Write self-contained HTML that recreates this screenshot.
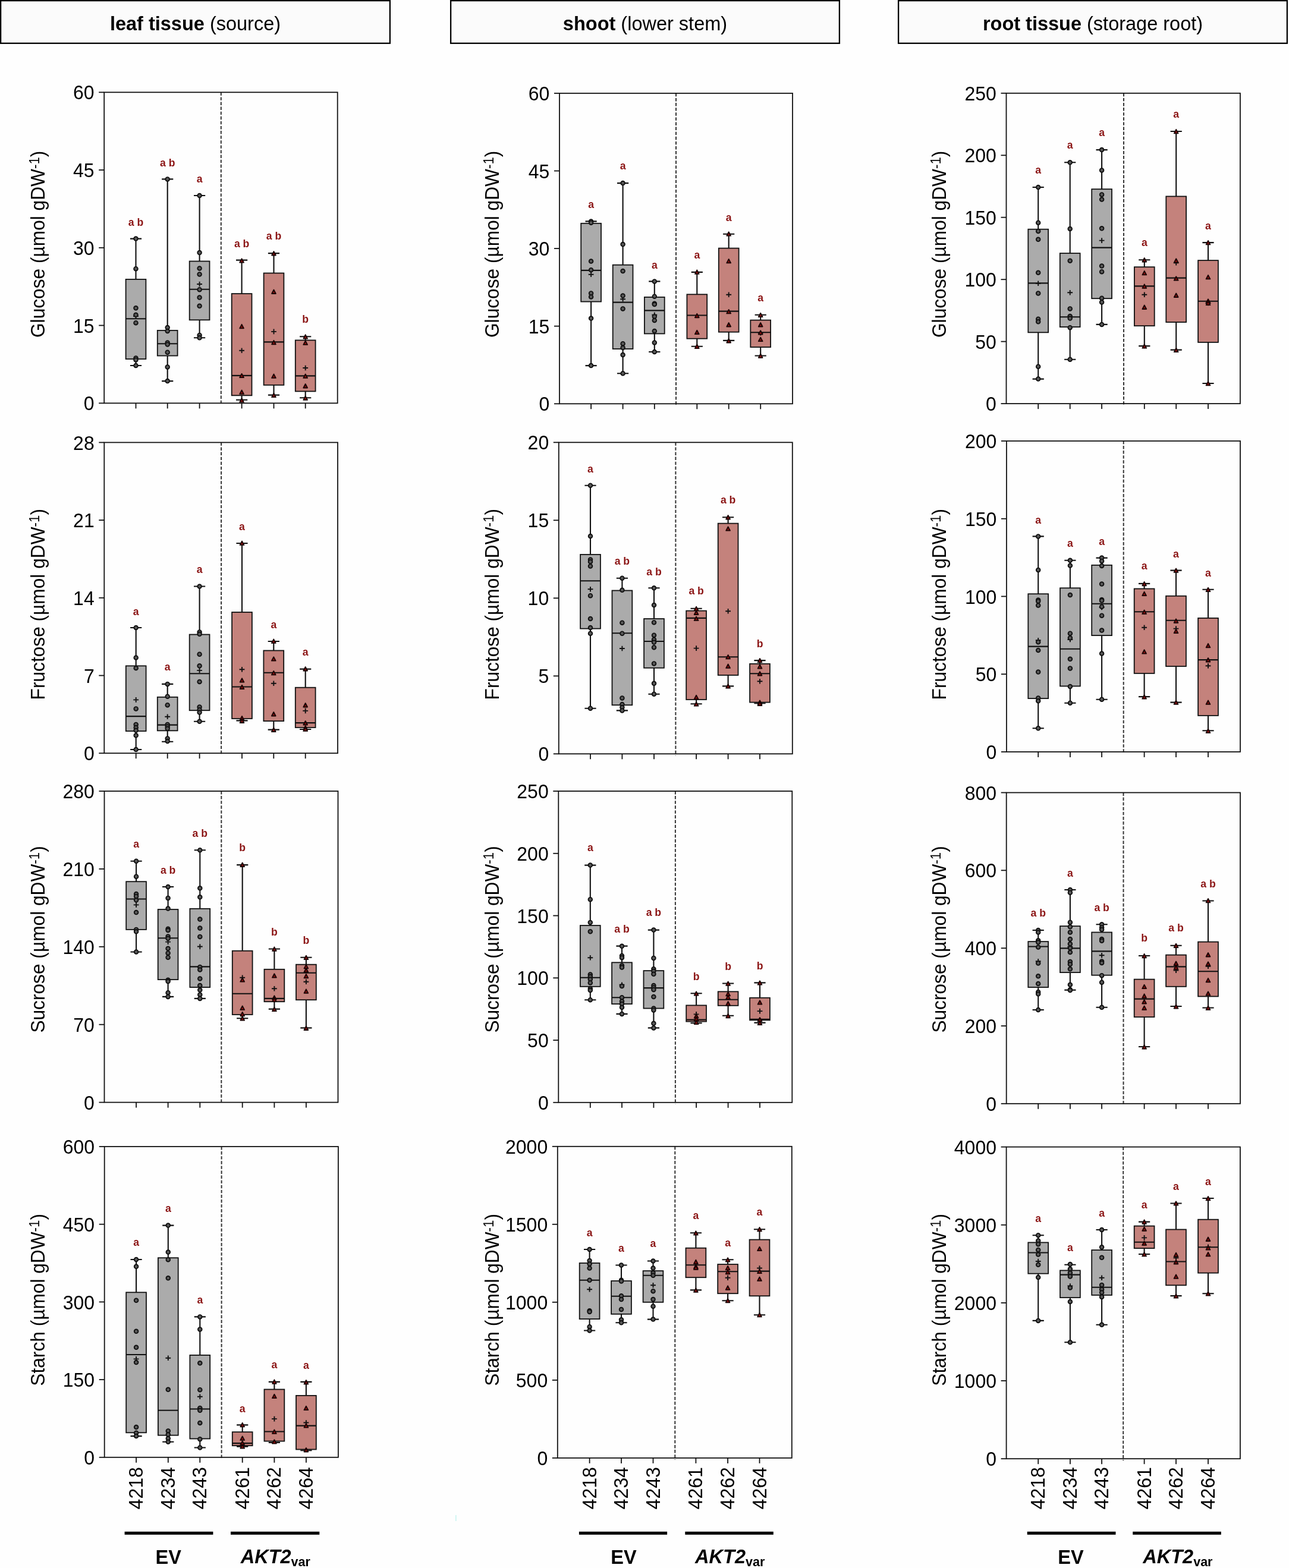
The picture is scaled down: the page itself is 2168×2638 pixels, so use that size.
<!DOCTYPE html>
<html><head><meta charset="utf-8"><title>figure</title>
<style>html,body{margin:0;padding:0;background:#fff;} svg{display:block;}</style>
</head><body>
<svg width="2168" height="2638" viewBox="0 0 2168 2638" font-family="'Liberation Sans', Arial, Helvetica, sans-serif"><rect x="0" y="0" width="2168" height="2638" fill="#fefefe"/><rect x="1.1" y="1.1" width="654.8" height="71.7" fill="#fbfbfb" stroke="#000" stroke-width="2.3"/><text x="328.5" y="50.8" font-size="32.5" text-anchor="middle"><tspan font-weight="bold">leaf tissue</tspan> (source)</text><rect x="758.1" y="1.1" width="653.8" height="71.7" fill="#fbfbfb" stroke="#000" stroke-width="2.3"/><text x="1085.0" y="50.8" font-size="32.5" text-anchor="middle"><tspan font-weight="bold">shoot</tspan> (lower stem)</text><rect x="1511.1" y="1.1" width="653.8" height="71.7" fill="#fbfbfb" stroke="#000" stroke-width="2.3"/><text x="1838.0" y="50.8" font-size="32.5" text-anchor="middle"><tspan font-weight="bold">root tissue</tspan> (storage root)</text><line x1="371.8" y1="155.3" x2="371.8" y2="681.3" stroke="#333" stroke-width="2" stroke-dasharray="5.4,2.7"/><rect x="175.2" y="155.3" width="392.5" height="523.0" fill="none" stroke="#111" stroke-width="1.8"/><path d="M166.2 678.3H175.2" stroke="#111" stroke-width="1.8"/><text transform="translate(158.6,690.4) scale(0.97,1)" font-size="33" text-anchor="end">0</text><path d="M166.2 547.5H175.2" stroke="#111" stroke-width="1.8"/><text transform="translate(158.6,559.6) scale(0.97,1)" font-size="33" text-anchor="end">15</text><path d="M166.2 416.8H175.2" stroke="#111" stroke-width="1.8"/><text transform="translate(158.6,428.9) scale(0.97,1)" font-size="33" text-anchor="end">30</text><path d="M166.2 286.0H175.2" stroke="#111" stroke-width="1.8"/><text transform="translate(158.6,298.1) scale(0.97,1)" font-size="33" text-anchor="end">45</text><path d="M166.2 155.3H175.2" stroke="#111" stroke-width="1.8"/><text transform="translate(158.6,167.4) scale(0.97,1)" font-size="33" text-anchor="end">60</text><path d="M228.5 678.3V687.3" stroke="#111" stroke-width="1.8"/><path d="M281.7 678.3V687.3" stroke="#111" stroke-width="1.8"/><path d="M335.6 678.3V687.3" stroke="#111" stroke-width="1.8"/><path d="M406.6 678.3V687.3" stroke="#111" stroke-width="1.8"/><path d="M460.5 678.3V687.3" stroke="#111" stroke-width="1.8"/><path d="M513.7 678.3V687.3" stroke="#111" stroke-width="1.8"/><text transform="translate(75.2,410.8) rotate(-90) scale(0.975,1)" font-size="32.5" text-anchor="middle">Glucose (µmol gDW<tspan font-size="23" dy="-9.5">-1</tspan><tspan dy="9.5">)</tspan></text><path d="M228.5 401.6V469.9M228.5 604.0V615.0M218.9 401.6H238.1M218.9 615.0H238.1" stroke="#111" stroke-width="2.1" fill="none"/><rect x="211.6" y="469.9" width="33.8" height="134.1" fill="#ababab" stroke="#111" stroke-width="1.8"/><path d="M211.6 536.3H245.4" stroke="#111" stroke-width="2.1"/><path d="M224.1 532H232.9M228.5 527.7V536.3" stroke="#111" stroke-width="1.9" fill="none"/><circle cx="228.5" cy="401.6" r="3.3" fill="#5a5a5a" stroke="#111" stroke-width="1.9"/><circle cx="228.5" cy="452.2" r="3.3" fill="#5a5a5a" stroke="#111" stroke-width="1.9"/><circle cx="228.5" cy="518.3" r="3.3" fill="#5a5a5a" stroke="#111" stroke-width="1.9"/><circle cx="228.5" cy="529.8" r="3.3" fill="#5a5a5a" stroke="#111" stroke-width="1.9"/><circle cx="228.5" cy="543.2" r="3.3" fill="#5a5a5a" stroke="#111" stroke-width="1.9"/><circle cx="228.5" cy="602.4" r="3.3" fill="#5a5a5a" stroke="#111" stroke-width="1.9"/><circle cx="228.5" cy="605.4" r="3.3" fill="#5a5a5a" stroke="#111" stroke-width="1.9"/><circle cx="228.5" cy="615" r="3.3" fill="#5a5a5a" stroke="#111" stroke-width="1.9"/><text x="228.5" y="379.8" font-size="17.6" font-weight="bold" fill="#8b1414" text-anchor="middle">a b</text><path d="M281.7 301.4V555.9M281.7 598.5V641.1M272.1 301.4H291.3M272.1 641.1H291.3" stroke="#111" stroke-width="2.1" fill="none"/><rect x="264.8" y="555.9" width="33.8" height="42.6" fill="#ababab" stroke="#111" stroke-width="1.8"/><path d="M264.8 578.2H298.6" stroke="#111" stroke-width="2.1"/><circle cx="281.7" cy="301.4" r="3.3" fill="#5a5a5a" stroke="#111" stroke-width="1.9"/><circle cx="281.7" cy="551" r="3.3" fill="#5a5a5a" stroke="#111" stroke-width="1.9"/><circle cx="281.7" cy="557" r="3.3" fill="#5a5a5a" stroke="#111" stroke-width="1.9"/><circle cx="281.7" cy="576.4" r="3.3" fill="#5a5a5a" stroke="#111" stroke-width="1.9"/><circle cx="281.7" cy="579.4" r="3.3" fill="#5a5a5a" stroke="#111" stroke-width="1.9"/><circle cx="281.7" cy="592.7" r="3.3" fill="#5a5a5a" stroke="#111" stroke-width="1.9"/><circle cx="281.7" cy="617.4" r="3.3" fill="#5a5a5a" stroke="#111" stroke-width="1.9"/><circle cx="281.7" cy="641.1" r="3.3" fill="#5a5a5a" stroke="#111" stroke-width="1.9"/><text x="281.7" y="279.5" font-size="17.6" font-weight="bold" fill="#8b1414" text-anchor="middle">a b</text><path d="M335.6 329.0V439.5M335.6 538.3V568.3M326.0 329.0H345.2M326.0 568.3H345.2" stroke="#111" stroke-width="2.1" fill="none"/><rect x="318.7" y="439.5" width="33.8" height="98.8" fill="#ababab" stroke="#111" stroke-width="1.8"/><path d="M318.7 486.7H352.5" stroke="#111" stroke-width="2.1"/><path d="M331.2 478H340.0M335.6 473.7V482.3" stroke="#111" stroke-width="1.9" fill="none"/><circle cx="335.6" cy="329" r="3.3" fill="#5a5a5a" stroke="#111" stroke-width="1.9"/><circle cx="335.6" cy="425.1" r="3.3" fill="#5a5a5a" stroke="#111" stroke-width="1.9"/><circle cx="335.6" cy="451.5" r="3.3" fill="#5a5a5a" stroke="#111" stroke-width="1.9"/><circle cx="335.6" cy="461.4" r="3.3" fill="#5a5a5a" stroke="#111" stroke-width="1.9"/><circle cx="335.6" cy="487.2" r="3.3" fill="#5a5a5a" stroke="#111" stroke-width="1.9"/><circle cx="335.6" cy="500.6" r="3.3" fill="#5a5a5a" stroke="#111" stroke-width="1.9"/><circle cx="335.6" cy="514.8" r="3.3" fill="#5a5a5a" stroke="#111" stroke-width="1.9"/><circle cx="335.6" cy="563.9" r="3.3" fill="#5a5a5a" stroke="#111" stroke-width="1.9"/><circle cx="335.6" cy="568.3" r="3.3" fill="#5a5a5a" stroke="#111" stroke-width="1.9"/><text x="335.6" y="307.2" font-size="17.6" font-weight="bold" fill="#8b1414" text-anchor="middle">a</text><path d="M406.6 437.6V494.1M406.6 665.3V672.7M397.0 437.6H416.2M397.0 672.7H416.2" stroke="#111" stroke-width="2.1" fill="none"/><rect x="389.7" y="494.1" width="33.8" height="171.2" fill="#c4827c" stroke="#111" stroke-width="1.8"/><path d="M389.7 631.9H423.5" stroke="#111" stroke-width="2.1"/><path d="M402.2 589.7H411.0M406.6 585.4V594.0" stroke="#111" stroke-width="1.9" fill="none"/><path d="M406.6 435.2L410.0 441.7L403.2 441.7Z" fill="#8a1010" stroke="#1a0303" stroke-width="1.8" stroke-linejoin="round"/><path d="M406.6 545.8L410.0 552.3L403.2 552.3Z" fill="#8a1010" stroke="#1a0303" stroke-width="1.8" stroke-linejoin="round"/><path d="M406.6 628.7L410.0 635.2L403.2 635.2Z" fill="#8a1010" stroke="#1a0303" stroke-width="1.8" stroke-linejoin="round"/><path d="M406.6 656.4L410.0 662.9L403.2 662.9Z" fill="#8a1010" stroke="#1a0303" stroke-width="1.8" stroke-linejoin="round"/><path d="M406.6 670.2L410.0 676.7L403.2 676.7Z" fill="#8a1010" stroke="#1a0303" stroke-width="1.8" stroke-linejoin="round"/><text x="406.6" y="415.5" font-size="17.6" font-weight="bold" fill="#8b1414" text-anchor="middle">a b</text><path d="M460.5 426.1V459.5M460.5 647.8V664.6M450.9 426.1H470.1M450.9 664.6H470.1" stroke="#111" stroke-width="2.1" fill="none"/><rect x="443.6" y="459.5" width="33.8" height="188.3" fill="#c4827c" stroke="#111" stroke-width="1.8"/><path d="M443.6 575.4H477.4" stroke="#111" stroke-width="2.1"/><path d="M456.1 557.9H464.9M460.5 553.6V562.2" stroke="#111" stroke-width="1.9" fill="none"/><path d="M460.5 423.0L463.9 429.5L457.1 429.5Z" fill="#8a1010" stroke="#1a0303" stroke-width="1.8" stroke-linejoin="round"/><path d="M460.5 487.5L463.9 494.0L457.1 494.0Z" fill="#8a1010" stroke="#1a0303" stroke-width="1.8" stroke-linejoin="round"/><path d="M460.5 572.8L463.9 579.3L457.1 579.3Z" fill="#8a1010" stroke="#1a0303" stroke-width="1.8" stroke-linejoin="round"/><path d="M460.5 629.4L463.9 635.9L457.1 635.9Z" fill="#8a1010" stroke="#1a0303" stroke-width="1.8" stroke-linejoin="round"/><path d="M460.5 661.7L463.9 668.2L457.1 668.2Z" fill="#8a1010" stroke="#1a0303" stroke-width="1.8" stroke-linejoin="round"/><text x="460.5" y="403.3" font-size="17.6" font-weight="bold" fill="#8b1414" text-anchor="middle">a b</text><path d="M513.7 566.2V572.4M513.7 658.4V669.2M504.1 566.2H523.3M504.1 669.2H523.3" stroke="#111" stroke-width="2.1" fill="none"/><rect x="496.8" y="572.4" width="33.8" height="86.0" fill="#c4827c" stroke="#111" stroke-width="1.8"/><path d="M496.8 632.4H530.6" stroke="#111" stroke-width="2.1"/><path d="M509.3 619H518.1M513.7 614.7V623.3" stroke="#111" stroke-width="1.9" fill="none"/><path d="M513.7 563.1L517.1 569.6L510.3 569.6Z" fill="#8a1010" stroke="#1a0303" stroke-width="1.8" stroke-linejoin="round"/><path d="M513.7 573.4L517.1 579.9L510.3 579.9Z" fill="#8a1010" stroke="#1a0303" stroke-width="1.8" stroke-linejoin="round"/><path d="M513.7 629.4L517.1 635.9L510.3 635.9Z" fill="#8a1010" stroke="#1a0303" stroke-width="1.8" stroke-linejoin="round"/><path d="M513.7 646.0L517.1 652.5L510.3 652.5Z" fill="#8a1010" stroke="#1a0303" stroke-width="1.8" stroke-linejoin="round"/><path d="M513.7 666.3L517.1 672.8L510.3 672.8Z" fill="#8a1010" stroke="#1a0303" stroke-width="1.8" stroke-linejoin="round"/><text x="513.7" y="543.0" font-size="17.6" font-weight="bold" fill="#8b1414" text-anchor="middle">b</text><line x1="1137.0" y1="156.9" x2="1137.0" y2="682.3" stroke="#333" stroke-width="2" stroke-dasharray="5.4,2.7"/><rect x="941.0" y="156.9" width="392.0" height="522.4" fill="none" stroke="#111" stroke-width="1.8"/><path d="M932.0 679.3H941.0" stroke="#111" stroke-width="1.8"/><text transform="translate(924.4,691.4) scale(0.97,1)" font-size="33" text-anchor="end">0</text><path d="M932.0 548.7H941.0" stroke="#111" stroke-width="1.8"/><text transform="translate(924.4,560.8) scale(0.97,1)" font-size="33" text-anchor="end">15</text><path d="M932.0 418.1H941.0" stroke="#111" stroke-width="1.8"/><text transform="translate(924.4,430.2) scale(0.97,1)" font-size="33" text-anchor="end">30</text><path d="M932.0 287.5H941.0" stroke="#111" stroke-width="1.8"/><text transform="translate(924.4,299.6) scale(0.97,1)" font-size="33" text-anchor="end">45</text><path d="M932.0 156.9H941.0" stroke="#111" stroke-width="1.8"/><text transform="translate(924.4,169.0) scale(0.97,1)" font-size="33" text-anchor="end">60</text><path d="M994.1 679.3V688.3" stroke="#111" stroke-width="1.8"/><path d="M1047.6 679.3V688.3" stroke="#111" stroke-width="1.8"/><path d="M1100.8 679.3V688.3" stroke="#111" stroke-width="1.8"/><path d="M1172.3 679.3V688.3" stroke="#111" stroke-width="1.8"/><path d="M1225.7 679.3V688.3" stroke="#111" stroke-width="1.8"/><path d="M1279.2 679.3V688.3" stroke="#111" stroke-width="1.8"/><text transform="translate(839.3,410.8) rotate(-90) scale(0.975,1)" font-size="32.5" text-anchor="middle">Glucose (µmol gDW<tspan font-size="23" dy="-9.5">-1</tspan><tspan dy="9.5">)</tspan></text><path d="M994.1 372.4V375.8M994.1 507.5V615.1M984.5 372.4H1003.7M984.5 615.1H1003.7" stroke="#111" stroke-width="2.1" fill="none"/><rect x="977.2" y="375.8" width="33.8" height="131.7" fill="#ababab" stroke="#111" stroke-width="1.8"/><path d="M977.2 454.9H1011.0" stroke="#111" stroke-width="2.1"/><path d="M989.7 461.8H998.5M994.1 457.5V466.1" stroke="#111" stroke-width="1.9" fill="none"/><circle cx="994.1" cy="372.4" r="3.3" fill="#5a5a5a" stroke="#111" stroke-width="1.9"/><circle cx="994.1" cy="374.7" r="3.3" fill="#5a5a5a" stroke="#111" stroke-width="1.9"/><circle cx="994.1" cy="439.5" r="3.3" fill="#5a5a5a" stroke="#111" stroke-width="1.9"/><circle cx="994.1" cy="454.2" r="3.3" fill="#5a5a5a" stroke="#111" stroke-width="1.9"/><circle cx="994.1" cy="493.4" r="3.3" fill="#5a5a5a" stroke="#111" stroke-width="1.9"/><circle cx="994.1" cy="499.4" r="3.3" fill="#5a5a5a" stroke="#111" stroke-width="1.9"/><circle cx="994.1" cy="535.6" r="3.3" fill="#5a5a5a" stroke="#111" stroke-width="1.9"/><circle cx="994.1" cy="615.1" r="3.3" fill="#5a5a5a" stroke="#111" stroke-width="1.9"/><text x="994.1" y="349.8" font-size="17.6" font-weight="bold" fill="#8b1414" text-anchor="middle">a</text><path d="M1047.6 308.1V445.7M1047.6 587.0V628.2M1038.0 308.1H1057.2M1038.0 628.2H1057.2" stroke="#111" stroke-width="2.1" fill="none"/><rect x="1030.7" y="445.7" width="33.8" height="141.3" fill="#ababab" stroke="#111" stroke-width="1.8"/><path d="M1030.7 508.6H1064.5" stroke="#111" stroke-width="2.1"/><path d="M1043.2 503.3H1052.0M1047.6 499.0V507.6" stroke="#111" stroke-width="1.9" fill="none"/><circle cx="1047.6" cy="308.1" r="3.3" fill="#5a5a5a" stroke="#111" stroke-width="1.9"/><circle cx="1047.6" cy="411.1" r="3.3" fill="#5a5a5a" stroke="#111" stroke-width="1.9"/><circle cx="1047.6" cy="456.1" r="3.3" fill="#5a5a5a" stroke="#111" stroke-width="1.9"/><circle cx="1047.6" cy="497.6" r="3.3" fill="#5a5a5a" stroke="#111" stroke-width="1.9"/><circle cx="1047.6" cy="519.4" r="3.3" fill="#5a5a5a" stroke="#111" stroke-width="1.9"/><circle cx="1047.6" cy="578.2" r="3.3" fill="#5a5a5a" stroke="#111" stroke-width="1.9"/><circle cx="1047.6" cy="585.1" r="3.3" fill="#5a5a5a" stroke="#111" stroke-width="1.9"/><circle cx="1047.6" cy="597.1" r="3.3" fill="#5a5a5a" stroke="#111" stroke-width="1.9"/><circle cx="1047.6" cy="628.2" r="3.3" fill="#5a5a5a" stroke="#111" stroke-width="1.9"/><text x="1047.6" y="285.3" font-size="17.6" font-weight="bold" fill="#8b1414" text-anchor="middle">a</text><path d="M1100.8 473.4V499.9M1100.8 561.4V592.0M1091.2 473.4H1110.4M1091.2 592.0H1110.4" stroke="#111" stroke-width="2.1" fill="none"/><rect x="1083.9" y="499.9" width="33.8" height="61.5" fill="#ababab" stroke="#111" stroke-width="1.8"/><path d="M1083.9 522.4H1117.7" stroke="#111" stroke-width="2.1"/><path d="M1096.4 529.8H1105.2M1100.8 525.5V534.1" stroke="#111" stroke-width="1.9" fill="none"/><circle cx="1100.8" cy="473.4" r="3.3" fill="#5a5a5a" stroke="#111" stroke-width="1.9"/><circle cx="1100.8" cy="498.7" r="3.3" fill="#5a5a5a" stroke="#111" stroke-width="1.9"/><circle cx="1100.8" cy="510.7" r="3.3" fill="#5a5a5a" stroke="#111" stroke-width="1.9"/><circle cx="1100.8" cy="512" r="3.3" fill="#5a5a5a" stroke="#111" stroke-width="1.9"/><circle cx="1100.8" cy="532.6" r="3.3" fill="#5a5a5a" stroke="#111" stroke-width="1.9"/><circle cx="1100.8" cy="539" r="3.3" fill="#5a5a5a" stroke="#111" stroke-width="1.9"/><circle cx="1100.8" cy="557" r="3.3" fill="#5a5a5a" stroke="#111" stroke-width="1.9"/><circle cx="1100.8" cy="576.4" r="3.3" fill="#5a5a5a" stroke="#111" stroke-width="1.9"/><circle cx="1100.8" cy="592" r="3.3" fill="#5a5a5a" stroke="#111" stroke-width="1.9"/><text x="1100.8" y="451.5" font-size="17.6" font-weight="bold" fill="#8b1414" text-anchor="middle">a</text><path d="M1172.3 457.9V495.3M1172.3 569.7V582.8M1162.7 457.9H1181.9M1162.7 582.8H1181.9" stroke="#111" stroke-width="2.1" fill="none"/><rect x="1155.4" y="495.3" width="33.8" height="74.4" fill="#c4827c" stroke="#111" stroke-width="1.8"/><path d="M1155.4 530.5H1189.2" stroke="#111" stroke-width="2.1"/><path d="M1172.3 454.3L1175.7 460.8L1168.9 460.8Z" fill="#8a1010" stroke="#1a0303" stroke-width="1.8" stroke-linejoin="round"/><path d="M1172.3 527.8L1175.7 534.3L1168.9 534.3Z" fill="#8a1010" stroke="#1a0303" stroke-width="1.8" stroke-linejoin="round"/><path d="M1172.3 555.7L1175.7 562.2L1168.9 562.2Z" fill="#8a1010" stroke="#1a0303" stroke-width="1.8" stroke-linejoin="round"/><path d="M1172.3 579.7L1175.7 586.2L1168.9 586.2Z" fill="#8a1010" stroke="#1a0303" stroke-width="1.8" stroke-linejoin="round"/><text x="1172.3" y="435.4" font-size="17.6" font-weight="bold" fill="#8b1414" text-anchor="middle">a</text><path d="M1225.7 393.8V417.6M1225.7 558.6V572.9M1216.1 393.8H1235.3M1216.1 572.9H1235.3" stroke="#111" stroke-width="2.1" fill="none"/><rect x="1208.8" y="417.6" width="33.8" height="141.0" fill="#c4827c" stroke="#111" stroke-width="1.8"/><path d="M1208.8 523.6H1242.6" stroke="#111" stroke-width="2.1"/><path d="M1221.3 495.7H1230.1M1225.7 491.4V500.0" stroke="#111" stroke-width="1.9" fill="none"/><path d="M1225.7 390.2L1229.1 396.7L1222.3 396.7Z" fill="#8a1010" stroke="#1a0303" stroke-width="1.8" stroke-linejoin="round"/><path d="M1225.7 435.9L1229.1 442.4L1222.3 442.4Z" fill="#8a1010" stroke="#1a0303" stroke-width="1.8" stroke-linejoin="round"/><path d="M1225.7 520.9L1229.1 527.4L1222.3 527.4Z" fill="#8a1010" stroke="#1a0303" stroke-width="1.8" stroke-linejoin="round"/><path d="M1225.7 543.0L1229.1 549.5L1222.3 549.5Z" fill="#8a1010" stroke="#1a0303" stroke-width="1.8" stroke-linejoin="round"/><path d="M1225.7 570.0L1229.1 576.5L1222.3 576.5Z" fill="#8a1010" stroke="#1a0303" stroke-width="1.8" stroke-linejoin="round"/><text x="1225.7" y="372.2" font-size="17.6" font-weight="bold" fill="#8b1414" text-anchor="middle">a</text><path d="M1279.2 529.8V538.6M1279.2 584.0V598.5M1269.6 529.8H1288.8M1269.6 598.5H1288.8" stroke="#111" stroke-width="2.1" fill="none"/><rect x="1262.3" y="538.6" width="33.8" height="45.4" fill="#c4827c" stroke="#111" stroke-width="1.8"/><path d="M1262.3 559.3H1296.1" stroke="#111" stroke-width="2.1"/><path d="M1274.8 560.2H1283.6M1279.2 555.9V564.5" stroke="#111" stroke-width="1.9" fill="none"/><path d="M1279.2 526.7L1282.6 533.2L1275.8 533.2Z" fill="#8a1010" stroke="#1a0303" stroke-width="1.8" stroke-linejoin="round"/><path d="M1279.2 543.0L1282.6 549.5L1275.8 549.5Z" fill="#8a1010" stroke="#1a0303" stroke-width="1.8" stroke-linejoin="round"/><path d="M1279.2 556.2L1282.6 562.7L1275.8 562.7Z" fill="#8a1010" stroke="#1a0303" stroke-width="1.8" stroke-linejoin="round"/><path d="M1279.2 567.7L1282.6 574.2L1275.8 574.2Z" fill="#8a1010" stroke="#1a0303" stroke-width="1.8" stroke-linejoin="round"/><path d="M1279.2 595.3L1282.6 601.8L1275.8 601.8Z" fill="#8a1010" stroke="#1a0303" stroke-width="1.8" stroke-linejoin="round"/><text x="1279.2" y="506.8" font-size="17.6" font-weight="bold" fill="#8b1414" text-anchor="middle">a</text><line x1="1890.0" y1="156.8" x2="1890.0" y2="682.1" stroke="#333" stroke-width="2" stroke-dasharray="5.4,2.7"/><rect x="1692.5" y="156.8" width="393.4" height="522.3" fill="none" stroke="#111" stroke-width="1.8"/><path d="M1683.5 679.1H1692.5" stroke="#111" stroke-width="1.8"/><text transform="translate(1675.9,691.2) scale(0.97,1)" font-size="33" text-anchor="end">0</text><path d="M1683.5 574.6H1692.5" stroke="#111" stroke-width="1.8"/><text transform="translate(1675.9,586.7) scale(0.97,1)" font-size="33" text-anchor="end">50</text><path d="M1683.5 470.2H1692.5" stroke="#111" stroke-width="1.8"/><text transform="translate(1675.9,482.3) scale(0.97,1)" font-size="33" text-anchor="end">100</text><path d="M1683.5 365.7H1692.5" stroke="#111" stroke-width="1.8"/><text transform="translate(1675.9,377.8) scale(0.97,1)" font-size="33" text-anchor="end">150</text><path d="M1683.5 261.3H1692.5" stroke="#111" stroke-width="1.8"/><text transform="translate(1675.9,273.4) scale(0.97,1)" font-size="33" text-anchor="end">200</text><path d="M1683.5 156.8H1692.5" stroke="#111" stroke-width="1.8"/><text transform="translate(1675.9,168.9) scale(0.97,1)" font-size="33" text-anchor="end">250</text><path d="M1746.2 679.1V688.1" stroke="#111" stroke-width="1.8"/><path d="M1799.7 679.1V688.1" stroke="#111" stroke-width="1.8"/><path d="M1853.1 679.1V688.1" stroke="#111" stroke-width="1.8"/><path d="M1924.8 679.1V688.1" stroke="#111" stroke-width="1.8"/><path d="M1978.2 679.1V688.1" stroke="#111" stroke-width="1.8"/><path d="M2032.0 679.1V688.1" stroke="#111" stroke-width="1.8"/><text transform="translate(1591.0,410.8) rotate(-90) scale(0.975,1)" font-size="32.5" text-anchor="middle">Glucose (µmol gDW<tspan font-size="23" dy="-9.5">-1</tspan><tspan dy="9.5">)</tspan></text><path d="M1746.2 315V385.7M1746.2 559.3V637.6M1736.6 315H1755.8M1736.6 637.6H1755.8" stroke="#111" stroke-width="2.1" fill="none"/><rect x="1729.3" y="385.7" width="33.8" height="173.6" fill="#ababab" stroke="#111" stroke-width="1.8"/><path d="M1729.3 476.4H1763.1" stroke="#111" stroke-width="2.1"/><path d="M1741.8 476.8H1750.6M1746.2 472.5V481.1" stroke="#111" stroke-width="1.9" fill="none"/><circle cx="1746.2" cy="315" r="3.3" fill="#5a5a5a" stroke="#111" stroke-width="1.9"/><circle cx="1746.2" cy="374.7" r="3.3" fill="#5a5a5a" stroke="#111" stroke-width="1.9"/><circle cx="1746.2" cy="388.9" r="3.3" fill="#5a5a5a" stroke="#111" stroke-width="1.9"/><circle cx="1746.2" cy="402.8" r="3.3" fill="#5a5a5a" stroke="#111" stroke-width="1.9"/><circle cx="1746.2" cy="458.8" r="3.3" fill="#5a5a5a" stroke="#111" stroke-width="1.9"/><circle cx="1746.2" cy="493.4" r="3.3" fill="#5a5a5a" stroke="#111" stroke-width="1.9"/><circle cx="1746.2" cy="536.7" r="3.3" fill="#5a5a5a" stroke="#111" stroke-width="1.9"/><circle cx="1746.2" cy="541.3" r="3.3" fill="#5a5a5a" stroke="#111" stroke-width="1.9"/><circle cx="1746.2" cy="616.7" r="3.3" fill="#5a5a5a" stroke="#111" stroke-width="1.9"/><circle cx="1746.2" cy="637.6" r="3.3" fill="#5a5a5a" stroke="#111" stroke-width="1.9"/><text x="1746.2" y="292.2" font-size="17.6" font-weight="bold" fill="#8b1414" text-anchor="middle">a</text><path d="M1799.7 273.3V426.1M1799.7 550.1V604.7M1790.1 273.3H1809.3M1790.1 604.7H1809.3" stroke="#111" stroke-width="2.1" fill="none"/><rect x="1782.8" y="426.1" width="33.8" height="124.0" fill="#ababab" stroke="#111" stroke-width="1.8"/><path d="M1782.8 533.3H1816.6" stroke="#111" stroke-width="2.1"/><path d="M1795.3 492.3H1804.1M1799.7 488.0V496.6" stroke="#111" stroke-width="1.9" fill="none"/><circle cx="1799.7" cy="273.3" r="3.3" fill="#5a5a5a" stroke="#111" stroke-width="1.9"/><circle cx="1799.7" cy="385" r="3.3" fill="#5a5a5a" stroke="#111" stroke-width="1.9"/><circle cx="1799.7" cy="438.8" r="3.3" fill="#5a5a5a" stroke="#111" stroke-width="1.9"/><circle cx="1799.7" cy="519.4" r="3.3" fill="#5a5a5a" stroke="#111" stroke-width="1.9"/><circle cx="1799.7" cy="532.1" r="3.3" fill="#5a5a5a" stroke="#111" stroke-width="1.9"/><circle cx="1799.7" cy="535.6" r="3.3" fill="#5a5a5a" stroke="#111" stroke-width="1.9"/><circle cx="1799.7" cy="551.2" r="3.3" fill="#5a5a5a" stroke="#111" stroke-width="1.9"/><circle cx="1799.7" cy="604.7" r="3.3" fill="#5a5a5a" stroke="#111" stroke-width="1.9"/><text x="1799.7" y="250.3" font-size="17.6" font-weight="bold" fill="#8b1414" text-anchor="middle">a</text><path d="M1853.1 252.1V318.2M1853.1 502.2V545.9M1843.5 252.1H1862.7M1843.5 545.9H1862.7" stroke="#111" stroke-width="2.1" fill="none"/><rect x="1836.2" y="318.2" width="33.8" height="184.0" fill="#ababab" stroke="#111" stroke-width="1.8"/><path d="M1836.2 416.6H1870.0" stroke="#111" stroke-width="2.1"/><path d="M1848.7 404.6H1857.5M1853.1 400.3V408.9" stroke="#111" stroke-width="1.9" fill="none"/><circle cx="1853.1" cy="252.1" r="3.3" fill="#5a5a5a" stroke="#111" stroke-width="1.9"/><circle cx="1853.1" cy="286.4" r="3.3" fill="#5a5a5a" stroke="#111" stroke-width="1.9"/><circle cx="1853.1" cy="327.4" r="3.3" fill="#5a5a5a" stroke="#111" stroke-width="1.9"/><circle cx="1853.1" cy="335.5" r="3.3" fill="#5a5a5a" stroke="#111" stroke-width="1.9"/><circle cx="1853.1" cy="384.3" r="3.3" fill="#5a5a5a" stroke="#111" stroke-width="1.9"/><circle cx="1853.1" cy="447.6" r="3.3" fill="#5a5a5a" stroke="#111" stroke-width="1.9"/><circle cx="1853.1" cy="457.2" r="3.3" fill="#5a5a5a" stroke="#111" stroke-width="1.9"/><circle cx="1853.1" cy="501.7" r="3.3" fill="#5a5a5a" stroke="#111" stroke-width="1.9"/><circle cx="1853.1" cy="508.4" r="3.3" fill="#5a5a5a" stroke="#111" stroke-width="1.9"/><circle cx="1853.1" cy="545.9" r="3.3" fill="#5a5a5a" stroke="#111" stroke-width="1.9"/><text x="1853.1" y="229.3" font-size="17.6" font-weight="bold" fill="#8b1414" text-anchor="middle">a</text><path d="M1924.8 437.2V449.2M1924.8 548.2V582.1M1915.2 437.2H1934.4M1915.2 582.1H1934.4" stroke="#111" stroke-width="2.1" fill="none"/><rect x="1907.9" y="449.2" width="33.8" height="99.0" fill="#c4827c" stroke="#111" stroke-width="1.8"/><path d="M1907.9 481.4H1941.7" stroke="#111" stroke-width="2.1"/><path d="M1920.4 495.7H1929.2M1924.8 491.4V500.0" stroke="#111" stroke-width="1.9" fill="none"/><path d="M1924.8 434.0L1928.2 440.5L1921.4 440.5Z" fill="#8a1010" stroke="#1a0303" stroke-width="1.8" stroke-linejoin="round"/><path d="M1924.8 455.9L1928.2 462.4L1921.4 462.4Z" fill="#8a1010" stroke="#1a0303" stroke-width="1.8" stroke-linejoin="round"/><path d="M1924.8 478.3L1928.2 484.8L1921.4 484.8Z" fill="#8a1010" stroke="#1a0303" stroke-width="1.8" stroke-linejoin="round"/><path d="M1924.8 513.5L1928.2 520.0L1921.4 520.0Z" fill="#8a1010" stroke="#1a0303" stroke-width="1.8" stroke-linejoin="round"/><path d="M1924.8 579.2L1928.2 585.7L1921.4 585.7Z" fill="#8a1010" stroke="#1a0303" stroke-width="1.8" stroke-linejoin="round"/><text x="1924.8" y="413.6" font-size="17.6" font-weight="bold" fill="#8b1414" text-anchor="middle">a</text><path d="M1978.2 221V330.4M1978.2 542V588.6M1968.6 221H1987.8M1968.6 588.6H1987.8" stroke="#111" stroke-width="2.1" fill="none"/><rect x="1961.3" y="330.4" width="33.8" height="211.6" fill="#c4827c" stroke="#111" stroke-width="1.8"/><path d="M1961.3 467.6H1995.1" stroke="#111" stroke-width="2.1"/><path d="M1973.8 442.3H1982.6M1978.2 438.0V446.6" stroke="#111" stroke-width="1.9" fill="none"/><path d="M1978.2 217.8L1981.6 224.3L1974.8 224.3Z" fill="#8a1010" stroke="#1a0303" stroke-width="1.8" stroke-linejoin="round"/><path d="M1978.2 435.2L1981.6 441.7L1974.8 441.7Z" fill="#8a1010" stroke="#1a0303" stroke-width="1.8" stroke-linejoin="round"/><path d="M1978.2 465.2L1981.6 471.7L1974.8 471.7Z" fill="#8a1010" stroke="#1a0303" stroke-width="1.8" stroke-linejoin="round"/><path d="M1978.2 493.5L1981.6 500.0L1974.8 500.0Z" fill="#8a1010" stroke="#1a0303" stroke-width="1.8" stroke-linejoin="round"/><path d="M1978.2 585.7L1981.6 592.2L1974.8 592.2Z" fill="#8a1010" stroke="#1a0303" stroke-width="1.8" stroke-linejoin="round"/><text x="1978.2" y="198.4" font-size="17.6" font-weight="bold" fill="#8b1414" text-anchor="middle">a</text><path d="M2032.0 408.1V438.1M2032.0 575.9V645M2022.4 408.1H2041.6M2022.4 645H2041.6" stroke="#111" stroke-width="2.1" fill="none"/><rect x="2015.1" y="438.1" width="33.8" height="137.8" fill="#c4827c" stroke="#111" stroke-width="1.8"/><path d="M2015.1 506.8H2048.9" stroke="#111" stroke-width="2.1"/><path d="M2027.6 510.0H2036.4M2032.0 505.7V514.3" stroke="#111" stroke-width="1.9" fill="none"/><path d="M2032.0 404.9L2035.4 411.4L2028.6 411.4Z" fill="#8a1010" stroke="#1a0303" stroke-width="1.8" stroke-linejoin="round"/><path d="M2032.0 462.9L2035.4 469.4L2028.6 469.4Z" fill="#8a1010" stroke="#1a0303" stroke-width="1.8" stroke-linejoin="round"/><path d="M2032.0 503.2L2035.4 509.7L2028.6 509.7Z" fill="#8a1010" stroke="#1a0303" stroke-width="1.8" stroke-linejoin="round"/><path d="M2032.0 506.6L2035.4 513.1L2028.6 513.1Z" fill="#8a1010" stroke="#1a0303" stroke-width="1.8" stroke-linejoin="round"/><path d="M2032.0 641.9L2035.4 648.4L2028.6 648.4Z" fill="#8a1010" stroke="#1a0303" stroke-width="1.8" stroke-linejoin="round"/><text x="2032.0" y="385.5" font-size="17.6" font-weight="bold" fill="#8b1414" text-anchor="middle">a</text><line x1="372.1" y1="744.4" x2="372.1" y2="1270.2" stroke="#333" stroke-width="2" stroke-dasharray="5.4,2.7"/><rect x="175.3" y="744.4" width="392.7" height="522.8" fill="none" stroke="#111" stroke-width="1.8"/><path d="M166.3 1267.2H175.3" stroke="#111" stroke-width="1.8"/><text transform="translate(158.7,1279.3) scale(0.97,1)" font-size="33" text-anchor="end">0</text><path d="M166.3 1136.5H175.3" stroke="#111" stroke-width="1.8"/><text transform="translate(158.7,1148.6) scale(0.97,1)" font-size="33" text-anchor="end">7</text><path d="M166.3 1005.8H175.3" stroke="#111" stroke-width="1.8"/><text transform="translate(158.7,1017.9) scale(0.97,1)" font-size="33" text-anchor="end">14</text><path d="M166.3 875.1H175.3" stroke="#111" stroke-width="1.8"/><text transform="translate(158.7,887.2) scale(0.97,1)" font-size="33" text-anchor="end">21</text><path d="M166.3 744.4H175.3" stroke="#111" stroke-width="1.8"/><text transform="translate(158.7,756.5) scale(0.97,1)" font-size="33" text-anchor="end">28</text><path d="M228.7 1267.2V1276.2" stroke="#111" stroke-width="1.8"/><path d="M281.7 1267.2V1276.2" stroke="#111" stroke-width="1.8"/><path d="M335.6 1267.2V1276.2" stroke="#111" stroke-width="1.8"/><path d="M407.0 1267.2V1276.2" stroke="#111" stroke-width="1.8"/><path d="M460.3 1267.2V1276.2" stroke="#111" stroke-width="1.8"/><path d="M513.7 1267.2V1276.2" stroke="#111" stroke-width="1.8"/><text transform="translate(75.2,1016.7) rotate(-90) scale(0.975,1)" font-size="32.5" text-anchor="middle">Fructose (µmol gDW<tspan font-size="23" dy="-9.5">-1</tspan><tspan dy="9.5">)</tspan></text><path d="M228.7 1056V1120.3M228.7 1230V1261M219.1 1056H238.3M219.1 1261H238.3" stroke="#111" stroke-width="2.1" fill="none"/><rect x="211.8" y="1120.3" width="33.8" height="109.7" fill="#ababab" stroke="#111" stroke-width="1.8"/><path d="M211.8 1205.1H245.6" stroke="#111" stroke-width="2.1"/><path d="M224.3 1177.4H233.1M228.7 1173.1V1181.7" stroke="#111" stroke-width="1.9" fill="none"/><circle cx="228.7" cy="1056" r="3.3" fill="#5a5a5a" stroke="#111" stroke-width="1.9"/><circle cx="228.7" cy="1106.5" r="3.3" fill="#5a5a5a" stroke="#111" stroke-width="1.9"/><circle cx="228.7" cy="1124" r="3.3" fill="#5a5a5a" stroke="#111" stroke-width="1.9"/><circle cx="228.7" cy="1192.4" r="3.3" fill="#5a5a5a" stroke="#111" stroke-width="1.9"/><circle cx="228.7" cy="1218.9" r="3.3" fill="#5a5a5a" stroke="#111" stroke-width="1.9"/><circle cx="228.7" cy="1224" r="3.3" fill="#5a5a5a" stroke="#111" stroke-width="1.9"/><circle cx="228.7" cy="1228.8" r="3.3" fill="#5a5a5a" stroke="#111" stroke-width="1.9"/><circle cx="228.7" cy="1237.3" r="3.3" fill="#5a5a5a" stroke="#111" stroke-width="1.9"/><circle cx="228.7" cy="1261" r="3.3" fill="#5a5a5a" stroke="#111" stroke-width="1.9"/><text x="228.7" y="1034.6" font-size="17.6" font-weight="bold" fill="#8b1414" text-anchor="middle">a</text><path d="M281.7 1150.9V1172.8M281.7 1229.3V1247.7M272.1 1150.9H291.3M272.1 1247.7H291.3" stroke="#111" stroke-width="2.1" fill="none"/><rect x="264.8" y="1172.8" width="33.8" height="56.5" fill="#ababab" stroke="#111" stroke-width="1.8"/><path d="M264.8 1219.6H298.6" stroke="#111" stroke-width="2.1"/><path d="M277.3 1205.8H286.1M281.7 1201.5V1210.1" stroke="#111" stroke-width="1.9" fill="none"/><circle cx="281.7" cy="1150.9" r="3.3" fill="#5a5a5a" stroke="#111" stroke-width="1.9"/><circle cx="281.7" cy="1171.7" r="3.3" fill="#5a5a5a" stroke="#111" stroke-width="1.9"/><circle cx="281.7" cy="1186.2" r="3.3" fill="#5a5a5a" stroke="#111" stroke-width="1.9"/><circle cx="281.7" cy="1218.9" r="3.3" fill="#5a5a5a" stroke="#111" stroke-width="1.9"/><circle cx="281.7" cy="1222.4" r="3.3" fill="#5a5a5a" stroke="#111" stroke-width="1.9"/><circle cx="281.7" cy="1225.8" r="3.3" fill="#5a5a5a" stroke="#111" stroke-width="1.9"/><circle cx="281.7" cy="1242.4" r="3.3" fill="#5a5a5a" stroke="#111" stroke-width="1.9"/><circle cx="281.7" cy="1247" r="3.3" fill="#5a5a5a" stroke="#111" stroke-width="1.9"/><text x="281.7" y="1128.4" font-size="17.6" font-weight="bold" fill="#8b1414" text-anchor="middle">a</text><path d="M335.6 986.5V1067.5M335.6 1195.2V1213.8M326.0 986.5H345.2M326.0 1213.8H345.2" stroke="#111" stroke-width="2.1" fill="none"/><rect x="318.7" y="1067.5" width="33.8" height="127.7" fill="#ababab" stroke="#111" stroke-width="1.8"/><path d="M318.7 1133.2H352.5" stroke="#111" stroke-width="2.1"/><path d="M331.2 1127.9H340.0M335.6 1123.6V1132.2" stroke="#111" stroke-width="1.9" fill="none"/><circle cx="335.6" cy="986.5" r="3.3" fill="#5a5a5a" stroke="#111" stroke-width="1.9"/><circle cx="335.6" cy="1063.4" r="3.3" fill="#5a5a5a" stroke="#111" stroke-width="1.9"/><circle cx="335.6" cy="1066.8" r="3.3" fill="#5a5a5a" stroke="#111" stroke-width="1.9"/><circle cx="335.6" cy="1100.7" r="3.3" fill="#5a5a5a" stroke="#111" stroke-width="1.9"/><circle cx="335.6" cy="1120.3" r="3.3" fill="#5a5a5a" stroke="#111" stroke-width="1.9"/><circle cx="335.6" cy="1147" r="3.3" fill="#5a5a5a" stroke="#111" stroke-width="1.9"/><circle cx="335.6" cy="1189.4" r="3.3" fill="#5a5a5a" stroke="#111" stroke-width="1.9"/><circle cx="335.6" cy="1194.2" r="3.3" fill="#5a5a5a" stroke="#111" stroke-width="1.9"/><circle cx="335.6" cy="1198.6" r="3.3" fill="#5a5a5a" stroke="#111" stroke-width="1.9"/><circle cx="335.6" cy="1213.8" r="3.3" fill="#5a5a5a" stroke="#111" stroke-width="1.9"/><text x="335.6" y="964.0" font-size="17.6" font-weight="bold" fill="#8b1414" text-anchor="middle">a</text><path d="M407.0 914V1030M407.0 1209V1212.4M397.4 914H416.6M397.4 1212.4H416.6" stroke="#111" stroke-width="2.1" fill="none"/><rect x="390.1" y="1030" width="33.8" height="179.0" fill="#c4827c" stroke="#111" stroke-width="1.8"/><path d="M390.1 1155.5H423.9" stroke="#111" stroke-width="2.1"/><path d="M402.6 1126.3H411.4M407.0 1122.0V1130.6" stroke="#111" stroke-width="1.9" fill="none"/><path d="M407.0 910.4L410.4 916.9L403.6 916.9Z" fill="#8a1010" stroke="#1a0303" stroke-width="1.8" stroke-linejoin="round"/><path d="M407.0 1141.1L410.4 1147.6L403.6 1147.6Z" fill="#8a1010" stroke="#1a0303" stroke-width="1.8" stroke-linejoin="round"/><path d="M407.0 1152.6L410.4 1159.1L403.6 1159.1Z" fill="#8a1010" stroke="#1a0303" stroke-width="1.8" stroke-linejoin="round"/><path d="M407.0 1204.9L410.4 1211.4L403.6 1211.4Z" fill="#8a1010" stroke="#1a0303" stroke-width="1.8" stroke-linejoin="round"/><path d="M407.0 1209.5L410.4 1216.0L403.6 1216.0Z" fill="#8a1010" stroke="#1a0303" stroke-width="1.8" stroke-linejoin="round"/><text x="407.0" y="892.1" font-size="17.6" font-weight="bold" fill="#8b1414" text-anchor="middle">a</text><path d="M460.3 1079V1094.5M460.3 1213.1V1227.6M450.7 1079H469.9M450.7 1227.6H469.9" stroke="#111" stroke-width="2.1" fill="none"/><rect x="443.4" y="1094.5" width="33.8" height="118.6" fill="#c4827c" stroke="#111" stroke-width="1.8"/><path d="M443.4 1131.8H477.2" stroke="#111" stroke-width="2.1"/><path d="M455.9 1149.8H464.7M460.3 1145.5V1154.1" stroke="#111" stroke-width="1.9" fill="none"/><path d="M460.3 1075.4L463.7 1081.9L456.9 1081.9Z" fill="#8a1010" stroke="#1a0303" stroke-width="1.8" stroke-linejoin="round"/><path d="M460.3 1105.2L463.7 1111.7L456.9 1111.7Z" fill="#8a1010" stroke="#1a0303" stroke-width="1.8" stroke-linejoin="round"/><path d="M460.3 1128.9L463.7 1135.4L456.9 1135.4Z" fill="#8a1010" stroke="#1a0303" stroke-width="1.8" stroke-linejoin="round"/><path d="M460.3 1198.0L463.7 1204.5L456.9 1204.5Z" fill="#8a1010" stroke="#1a0303" stroke-width="1.8" stroke-linejoin="round"/><path d="M460.3 1224.5L463.7 1231.0L456.9 1231.0Z" fill="#8a1010" stroke="#1a0303" stroke-width="1.8" stroke-linejoin="round"/><text x="460.3" y="1056.5" font-size="17.6" font-weight="bold" fill="#8b1414" text-anchor="middle">a</text><path d="M513.7 1125.6V1156.7M513.7 1224V1227M504.1 1125.6H523.3M504.1 1227H523.3" stroke="#111" stroke-width="2.1" fill="none"/><rect x="496.8" y="1156.7" width="33.8" height="67.3" fill="#c4827c" stroke="#111" stroke-width="1.8"/><path d="M496.8 1216.1H530.6" stroke="#111" stroke-width="2.1"/><path d="M509.3 1195.9H518.1M513.7 1191.6V1200.2" stroke="#111" stroke-width="1.9" fill="none"/><path d="M513.7 1122.0L517.1 1128.5L510.3 1128.5Z" fill="#8a1010" stroke="#1a0303" stroke-width="1.8" stroke-linejoin="round"/><path d="M513.7 1183.0L517.1 1189.5L510.3 1189.5Z" fill="#8a1010" stroke="#1a0303" stroke-width="1.8" stroke-linejoin="round"/><path d="M513.7 1213.0L517.1 1219.5L510.3 1219.5Z" fill="#8a1010" stroke="#1a0303" stroke-width="1.8" stroke-linejoin="round"/><path d="M513.7 1221.1L517.1 1227.6L510.3 1227.6Z" fill="#8a1010" stroke="#1a0303" stroke-width="1.8" stroke-linejoin="round"/><path d="M513.7 1223.4L517.1 1229.9L510.3 1229.9Z" fill="#8a1010" stroke="#1a0303" stroke-width="1.8" stroke-linejoin="round"/><text x="513.7" y="1102.6" font-size="17.6" font-weight="bold" fill="#8b1414" text-anchor="middle">a</text><line x1="1136.4" y1="744.3" x2="1136.4" y2="1271.3" stroke="#333" stroke-width="2" stroke-dasharray="5.4,2.7"/><rect x="939.8" y="744.3" width="393.0" height="524.0" fill="none" stroke="#111" stroke-width="1.8"/><path d="M930.8 1268.3H939.8" stroke="#111" stroke-width="1.8"/><text transform="translate(923.2,1280.4) scale(0.97,1)" font-size="33" text-anchor="end">0</text><path d="M930.8 1137.3H939.8" stroke="#111" stroke-width="1.8"/><text transform="translate(923.2,1149.4) scale(0.97,1)" font-size="33" text-anchor="end">5</text><path d="M930.8 1006.3H939.8" stroke="#111" stroke-width="1.8"/><text transform="translate(923.2,1018.4) scale(0.97,1)" font-size="33" text-anchor="end">10</text><path d="M930.8 875.3H939.8" stroke="#111" stroke-width="1.8"/><text transform="translate(923.2,887.4) scale(0.97,1)" font-size="33" text-anchor="end">15</text><path d="M930.8 744.3H939.8" stroke="#111" stroke-width="1.8"/><text transform="translate(923.2,756.4) scale(0.97,1)" font-size="33" text-anchor="end">20</text><path d="M993.0 1268.3V1277.3" stroke="#111" stroke-width="1.8"/><path d="M1046.4 1268.3V1277.3" stroke="#111" stroke-width="1.8"/><path d="M1100.0 1268.3V1277.3" stroke="#111" stroke-width="1.8"/><path d="M1171.1 1268.3V1277.3" stroke="#111" stroke-width="1.8"/><path d="M1224.6 1268.3V1277.3" stroke="#111" stroke-width="1.8"/><path d="M1278.0 1268.3V1277.3" stroke="#111" stroke-width="1.8"/><text transform="translate(839.3,1016.7) rotate(-90) scale(0.975,1)" font-size="32.5" text-anchor="middle">Fructose (µmol gDW<tspan font-size="23" dy="-9.5">-1</tspan><tspan dy="9.5">)</tspan></text><path d="M993.0 816.7V932.9M993.0 1057.6V1191.7M983.4 816.7H1002.6M983.4 1191.7H1002.6" stroke="#111" stroke-width="2.1" fill="none"/><rect x="976.1" y="932.9" width="33.8" height="124.7" fill="#ababab" stroke="#111" stroke-width="1.8"/><path d="M976.1 977.3H1009.9" stroke="#111" stroke-width="2.1"/><path d="M988.6 991.2H997.4M993.0 986.9V995.5" stroke="#111" stroke-width="1.9" fill="none"/><circle cx="993.0" cy="816.7" r="3.3" fill="#5a5a5a" stroke="#111" stroke-width="1.9"/><circle cx="993.0" cy="902" r="3.3" fill="#5a5a5a" stroke="#111" stroke-width="1.9"/><circle cx="993.0" cy="941.6" r="3.3" fill="#5a5a5a" stroke="#111" stroke-width="1.9"/><circle cx="993.0" cy="945.1" r="3.3" fill="#5a5a5a" stroke="#111" stroke-width="1.9"/><circle cx="993.0" cy="952.4" r="3.3" fill="#5a5a5a" stroke="#111" stroke-width="1.9"/><circle cx="993.0" cy="1002.2" r="3.3" fill="#5a5a5a" stroke="#111" stroke-width="1.9"/><circle cx="993.0" cy="1041" r="3.3" fill="#5a5a5a" stroke="#111" stroke-width="1.9"/><circle cx="993.0" cy="1056" r="3.3" fill="#5a5a5a" stroke="#111" stroke-width="1.9"/><circle cx="993.0" cy="1065.7" r="3.3" fill="#5a5a5a" stroke="#111" stroke-width="1.9"/><circle cx="993.0" cy="1191.7" r="3.3" fill="#5a5a5a" stroke="#111" stroke-width="1.9"/><text x="993.0" y="795.1" font-size="17.6" font-weight="bold" fill="#8b1414" text-anchor="middle">a</text><path d="M1046.4 972.7V993.5M1046.4 1186.2V1195.4M1036.8 972.7H1056.0M1036.8 1195.4H1056.0" stroke="#111" stroke-width="2.1" fill="none"/><rect x="1029.5" y="993.5" width="33.8" height="192.7" fill="#ababab" stroke="#111" stroke-width="1.8"/><path d="M1029.5 1065.2H1063.3" stroke="#111" stroke-width="2.1"/><path d="M1042.0 1091H1050.8M1046.4 1086.7V1095.3" stroke="#111" stroke-width="1.9" fill="none"/><circle cx="1046.4" cy="972.7" r="3.3" fill="#5a5a5a" stroke="#111" stroke-width="1.9"/><circle cx="1046.4" cy="992.8" r="3.3" fill="#5a5a5a" stroke="#111" stroke-width="1.9"/><circle cx="1046.4" cy="1047.7" r="3.3" fill="#5a5a5a" stroke="#111" stroke-width="1.9"/><circle cx="1046.4" cy="1065.7" r="3.3" fill="#5a5a5a" stroke="#111" stroke-width="1.9"/><circle cx="1046.4" cy="1174.4" r="3.3" fill="#5a5a5a" stroke="#111" stroke-width="1.9"/><circle cx="1046.4" cy="1185" r="3.3" fill="#5a5a5a" stroke="#111" stroke-width="1.9"/><circle cx="1046.4" cy="1190.1" r="3.3" fill="#5a5a5a" stroke="#111" stroke-width="1.9"/><circle cx="1046.4" cy="1195.4" r="3.3" fill="#5a5a5a" stroke="#111" stroke-width="1.9"/><text x="1046.4" y="949.7" font-size="17.6" font-weight="bold" fill="#8b1414" text-anchor="middle">a b</text><path d="M1100.0 989.3V1041M1100.0 1123.7V1167.7M1090.4 989.3H1109.6M1090.4 1167.7H1109.6" stroke="#111" stroke-width="2.1" fill="none"/><rect x="1083.1" y="1041" width="33.8" height="82.7" fill="#ababab" stroke="#111" stroke-width="1.8"/><path d="M1083.1 1079H1116.9" stroke="#111" stroke-width="2.1"/><circle cx="1100.0" cy="989.3" r="3.3" fill="#5a5a5a" stroke="#111" stroke-width="1.9"/><circle cx="1100.0" cy="1018" r="3.3" fill="#5a5a5a" stroke="#111" stroke-width="1.9"/><circle cx="1100.0" cy="1047.2" r="3.3" fill="#5a5a5a" stroke="#111" stroke-width="1.9"/><circle cx="1100.0" cy="1068.7" r="3.3" fill="#5a5a5a" stroke="#111" stroke-width="1.9"/><circle cx="1100.0" cy="1076" r="3.3" fill="#5a5a5a" stroke="#111" stroke-width="1.9"/><circle cx="1100.0" cy="1080.6" r="3.3" fill="#5a5a5a" stroke="#111" stroke-width="1.9"/><circle cx="1100.0" cy="1089.2" r="3.3" fill="#5a5a5a" stroke="#111" stroke-width="1.9"/><circle cx="1100.0" cy="1116.4" r="3.3" fill="#5a5a5a" stroke="#111" stroke-width="1.9"/><circle cx="1100.0" cy="1149.8" r="3.3" fill="#5a5a5a" stroke="#111" stroke-width="1.9"/><circle cx="1100.0" cy="1167.7" r="3.3" fill="#5a5a5a" stroke="#111" stroke-width="1.9"/><text x="1100.0" y="967.5" font-size="17.6" font-weight="bold" fill="#8b1414" text-anchor="middle">a b</text><path d="M1171.1 1023.7V1027.6M1171.1 1177V1184.3M1161.5 1023.7H1180.7M1161.5 1184.3H1180.7" stroke="#111" stroke-width="2.1" fill="none"/><rect x="1154.2" y="1027.6" width="33.8" height="149.4" fill="#c4827c" stroke="#111" stroke-width="1.8"/><path d="M1154.2 1039.9H1188.0" stroke="#111" stroke-width="2.1"/><path d="M1166.7 1090.6H1175.5M1171.1 1086.3V1094.9" stroke="#111" stroke-width="1.9" fill="none"/><path d="M1171.1 1020.6L1174.5 1027.1L1167.7 1027.1Z" fill="#8a1010" stroke="#1a0303" stroke-width="1.8" stroke-linejoin="round"/><path d="M1171.1 1027.5L1174.5 1034.0L1167.7 1034.0Z" fill="#8a1010" stroke="#1a0303" stroke-width="1.8" stroke-linejoin="round"/><path d="M1171.1 1037.4L1174.5 1043.9L1167.7 1043.9Z" fill="#8a1010" stroke="#1a0303" stroke-width="1.8" stroke-linejoin="round"/><path d="M1171.1 1169.7L1174.5 1176.2L1167.7 1176.2Z" fill="#8a1010" stroke="#1a0303" stroke-width="1.8" stroke-linejoin="round"/><path d="M1171.1 1181.2L1174.5 1187.7L1167.7 1187.7Z" fill="#8a1010" stroke="#1a0303" stroke-width="1.8" stroke-linejoin="round"/><text x="1171.1" y="1000.4" font-size="17.6" font-weight="bold" fill="#8b1414" text-anchor="middle">a b</text><path d="M1224.6 870.2V880.6M1224.6 1135.9V1154.4M1215.0 870.2H1234.2M1215.0 1154.4H1234.2" stroke="#111" stroke-width="2.1" fill="none"/><rect x="1207.7" y="880.6" width="33.8" height="255.3" fill="#c4827c" stroke="#111" stroke-width="1.8"/><path d="M1207.7 1105.3H1241.5" stroke="#111" stroke-width="2.1"/><path d="M1220.2 1028.3H1229.0M1224.6 1024.0V1032.6" stroke="#111" stroke-width="1.9" fill="none"/><path d="M1224.6 867.0L1228.0 873.5L1221.2 873.5Z" fill="#8a1010" stroke="#1a0303" stroke-width="1.8" stroke-linejoin="round"/><path d="M1224.6 886.2L1228.0 892.7L1221.2 892.7Z" fill="#8a1010" stroke="#1a0303" stroke-width="1.8" stroke-linejoin="round"/><path d="M1224.6 1101.9L1228.0 1108.4L1221.2 1108.4Z" fill="#8a1010" stroke="#1a0303" stroke-width="1.8" stroke-linejoin="round"/><path d="M1224.6 1117.4L1228.0 1123.9L1221.2 1123.9Z" fill="#8a1010" stroke="#1a0303" stroke-width="1.8" stroke-linejoin="round"/><path d="M1224.6 1151.2L1228.0 1157.7L1221.2 1157.7Z" fill="#8a1010" stroke="#1a0303" stroke-width="1.8" stroke-linejoin="round"/><text x="1224.6" y="847.0" font-size="17.6" font-weight="bold" fill="#8b1414" text-anchor="middle">a b</text><path d="M1278.0 1111.1V1116.8M1278.0 1181.6V1183.2M1268.4 1111.1H1287.6M1268.4 1183.2H1287.6" stroke="#111" stroke-width="2.1" fill="none"/><rect x="1261.1" y="1116.8" width="33.8" height="64.8" fill="#c4827c" stroke="#111" stroke-width="1.8"/><path d="M1261.1 1133.2H1294.9" stroke="#111" stroke-width="2.1"/><path d="M1273.6 1146.3H1282.4M1278.0 1142.0V1150.6" stroke="#111" stroke-width="1.9" fill="none"/><path d="M1278.0 1107.9L1281.4 1114.4L1274.6 1114.4Z" fill="#8a1010" stroke="#1a0303" stroke-width="1.8" stroke-linejoin="round"/><path d="M1278.0 1118.1L1281.4 1124.6L1274.6 1124.6Z" fill="#8a1010" stroke="#1a0303" stroke-width="1.8" stroke-linejoin="round"/><path d="M1278.0 1130.0L1281.4 1136.5L1274.6 1136.5Z" fill="#8a1010" stroke="#1a0303" stroke-width="1.8" stroke-linejoin="round"/><path d="M1278.0 1178.4L1281.4 1184.9L1274.6 1184.9Z" fill="#8a1010" stroke="#1a0303" stroke-width="1.8" stroke-linejoin="round"/><path d="M1278.0 1180.7L1281.4 1187.2L1274.6 1187.2Z" fill="#8a1010" stroke="#1a0303" stroke-width="1.8" stroke-linejoin="round"/><text x="1278.0" y="1089.2" font-size="17.6" font-weight="bold" fill="#8b1414" text-anchor="middle">b</text><line x1="1889.7" y1="741.9" x2="1889.7" y2="1267.9" stroke="#333" stroke-width="2" stroke-dasharray="5.4,2.7"/><rect x="1692.9" y="741.9" width="393.1" height="523.0" fill="none" stroke="#111" stroke-width="1.8"/><path d="M1683.9 1264.9H1692.9" stroke="#111" stroke-width="1.8"/><text transform="translate(1676.3,1277.0) scale(0.97,1)" font-size="33" text-anchor="end">0</text><path d="M1683.9 1134.2H1692.9" stroke="#111" stroke-width="1.8"/><text transform="translate(1676.3,1146.2) scale(0.97,1)" font-size="33" text-anchor="end">50</text><path d="M1683.9 1003.4H1692.9" stroke="#111" stroke-width="1.8"/><text transform="translate(1676.3,1015.5) scale(0.97,1)" font-size="33" text-anchor="end">100</text><path d="M1683.9 872.7H1692.9" stroke="#111" stroke-width="1.8"/><text transform="translate(1676.3,884.8) scale(0.97,1)" font-size="33" text-anchor="end">150</text><path d="M1683.9 741.9H1692.9" stroke="#111" stroke-width="1.8"/><text transform="translate(1676.3,754.0) scale(0.97,1)" font-size="33" text-anchor="end">200</text><path d="M1746.2 1264.9V1273.9" stroke="#111" stroke-width="1.8"/><path d="M1799.9 1264.9V1273.9" stroke="#111" stroke-width="1.8"/><path d="M1853.1 1264.9V1273.9" stroke="#111" stroke-width="1.8"/><path d="M1924.6 1264.9V1273.9" stroke="#111" stroke-width="1.8"/><path d="M1978.0 1264.9V1273.9" stroke="#111" stroke-width="1.8"/><path d="M2032.0 1264.9V1273.9" stroke="#111" stroke-width="1.8"/><text transform="translate(1591.0,1016.7) rotate(-90) scale(0.975,1)" font-size="32.5" text-anchor="middle">Fructose (µmol gDW<tspan font-size="23" dy="-9.5">-1</tspan><tspan dy="9.5">)</tspan></text><path d="M1746.2 902.4V999.2M1746.2 1175.1V1225.3M1736.6 902.4H1755.8M1736.6 1225.3H1755.8" stroke="#111" stroke-width="2.1" fill="none"/><rect x="1729.3" y="999.2" width="33.8" height="175.9" fill="#ababab" stroke="#111" stroke-width="1.8"/><path d="M1729.3 1087.6H1763.1" stroke="#111" stroke-width="2.1"/><path d="M1741.8 1077.2H1750.6M1746.2 1072.9V1081.5" stroke="#111" stroke-width="1.9" fill="none"/><circle cx="1746.2" cy="902.4" r="3.3" fill="#5a5a5a" stroke="#111" stroke-width="1.9"/><circle cx="1746.2" cy="958.9" r="3.3" fill="#5a5a5a" stroke="#111" stroke-width="1.9"/><circle cx="1746.2" cy="1009.6" r="3.3" fill="#5a5a5a" stroke="#111" stroke-width="1.9"/><circle cx="1746.2" cy="1011.5" r="3.3" fill="#5a5a5a" stroke="#111" stroke-width="1.9"/><circle cx="1746.2" cy="1018.4" r="3.3" fill="#5a5a5a" stroke="#111" stroke-width="1.9"/><circle cx="1746.2" cy="1080.2" r="3.3" fill="#5a5a5a" stroke="#111" stroke-width="1.9"/><circle cx="1746.2" cy="1094" r="3.3" fill="#5a5a5a" stroke="#111" stroke-width="1.9"/><circle cx="1746.2" cy="1130.6" r="3.3" fill="#5a5a5a" stroke="#111" stroke-width="1.9"/><circle cx="1746.2" cy="1174.4" r="3.3" fill="#5a5a5a" stroke="#111" stroke-width="1.9"/><circle cx="1746.2" cy="1179.3" r="3.3" fill="#5a5a5a" stroke="#111" stroke-width="1.9"/><circle cx="1746.2" cy="1225.3" r="3.3" fill="#5a5a5a" stroke="#111" stroke-width="1.9"/><text x="1746.2" y="880.6" font-size="17.6" font-weight="bold" fill="#8b1414" text-anchor="middle">a</text><path d="M1799.9 942.8V989.3M1799.9 1154.4V1182.7M1790.3 942.8H1809.5M1790.3 1182.7H1809.5" stroke="#111" stroke-width="2.1" fill="none"/><rect x="1783.0" y="989.3" width="33.8" height="165.1" fill="#ababab" stroke="#111" stroke-width="1.8"/><path d="M1783.0 1091.7H1816.8" stroke="#111" stroke-width="2.1"/><path d="M1795.5 1076H1804.3M1799.9 1071.7V1080.3" stroke="#111" stroke-width="1.9" fill="none"/><circle cx="1799.9" cy="942.8" r="3.3" fill="#5a5a5a" stroke="#111" stroke-width="1.9"/><circle cx="1799.9" cy="951.5" r="3.3" fill="#5a5a5a" stroke="#111" stroke-width="1.9"/><circle cx="1799.9" cy="1001.1" r="3.3" fill="#5a5a5a" stroke="#111" stroke-width="1.9"/><circle cx="1799.9" cy="1065.7" r="3.3" fill="#5a5a5a" stroke="#111" stroke-width="1.9"/><circle cx="1799.9" cy="1073.3" r="3.3" fill="#5a5a5a" stroke="#111" stroke-width="1.9"/><circle cx="1799.9" cy="1108.8" r="3.3" fill="#5a5a5a" stroke="#111" stroke-width="1.9"/><circle cx="1799.9" cy="1124.4" r="3.3" fill="#5a5a5a" stroke="#111" stroke-width="1.9"/><circle cx="1799.9" cy="1155.1" r="3.3" fill="#5a5a5a" stroke="#111" stroke-width="1.9"/><circle cx="1799.9" cy="1182.7" r="3.3" fill="#5a5a5a" stroke="#111" stroke-width="1.9"/><text x="1799.9" y="920.2" font-size="17.6" font-weight="bold" fill="#8b1414" text-anchor="middle">a</text><path d="M1853.1 938.6V950.8M1853.1 1069.1V1176.7M1843.5 938.6H1862.7M1843.5 1176.7H1862.7" stroke="#111" stroke-width="2.1" fill="none"/><rect x="1836.2" y="950.8" width="33.8" height="118.3" fill="#ababab" stroke="#111" stroke-width="1.8"/><path d="M1836.2 1015.7H1870.0" stroke="#111" stroke-width="2.1"/><path d="M1848.7 1021.9H1857.5M1853.1 1017.6V1026.2" stroke="#111" stroke-width="1.9" fill="none"/><circle cx="1853.1" cy="938.6" r="3.3" fill="#5a5a5a" stroke="#111" stroke-width="1.9"/><circle cx="1853.1" cy="943.9" r="3.3" fill="#5a5a5a" stroke="#111" stroke-width="1.9"/><circle cx="1853.1" cy="952" r="3.3" fill="#5a5a5a" stroke="#111" stroke-width="1.9"/><circle cx="1853.1" cy="982.6" r="3.3" fill="#5a5a5a" stroke="#111" stroke-width="1.9"/><circle cx="1853.1" cy="1009.1" r="3.3" fill="#5a5a5a" stroke="#111" stroke-width="1.9"/><circle cx="1853.1" cy="1010.4" r="3.3" fill="#5a5a5a" stroke="#111" stroke-width="1.9"/><circle cx="1853.1" cy="1020.7" r="3.3" fill="#5a5a5a" stroke="#111" stroke-width="1.9"/><circle cx="1853.1" cy="1035.7" r="3.3" fill="#5a5a5a" stroke="#111" stroke-width="1.9"/><circle cx="1853.1" cy="1060.6" r="3.3" fill="#5a5a5a" stroke="#111" stroke-width="1.9"/><circle cx="1853.1" cy="1099.5" r="3.3" fill="#5a5a5a" stroke="#111" stroke-width="1.9"/><circle cx="1853.1" cy="1176.7" r="3.3" fill="#5a5a5a" stroke="#111" stroke-width="1.9"/><text x="1853.1" y="916.8" font-size="17.6" font-weight="bold" fill="#8b1414" text-anchor="middle">a</text><path d="M1924.6 981.9V990.5M1924.6 1132.9V1172.1M1915.0 981.9H1934.2M1915.0 1172.1H1934.2" stroke="#111" stroke-width="2.1" fill="none"/><rect x="1907.7" y="990.5" width="33.8" height="142.4" fill="#c4827c" stroke="#111" stroke-width="1.8"/><path d="M1907.7 1029.3H1941.5" stroke="#111" stroke-width="2.1"/><path d="M1920.2 1055.8H1929.0M1924.6 1051.5V1060.1" stroke="#111" stroke-width="1.9" fill="none"/><path d="M1924.6 978.8L1928.0 985.3L1921.2 985.3Z" fill="#8a1010" stroke="#1a0303" stroke-width="1.8" stroke-linejoin="round"/><path d="M1924.6 995.6L1928.0 1002.1L1921.2 1002.1Z" fill="#8a1010" stroke="#1a0303" stroke-width="1.8" stroke-linejoin="round"/><path d="M1924.6 1026.4L1928.0 1032.9L1921.2 1032.9Z" fill="#8a1010" stroke="#1a0303" stroke-width="1.8" stroke-linejoin="round"/><path d="M1924.6 1093.2L1928.0 1099.7L1921.2 1099.7Z" fill="#8a1010" stroke="#1a0303" stroke-width="1.8" stroke-linejoin="round"/><path d="M1924.6 1169.2L1928.0 1175.7L1921.2 1175.7Z" fill="#8a1010" stroke="#1a0303" stroke-width="1.8" stroke-linejoin="round"/><text x="1924.6" y="958.2" font-size="17.6" font-weight="bold" fill="#8b1414" text-anchor="middle">a</text><path d="M1978.0 959.6V1002.7M1978.0 1121V1181.6M1968.4 959.6H1987.6M1968.4 1181.6H1987.6" stroke="#111" stroke-width="2.1" fill="none"/><rect x="1961.1" y="1002.7" width="33.8" height="118.3" fill="#c4827c" stroke="#111" stroke-width="1.8"/><path d="M1961.1 1043.8H1994.9" stroke="#111" stroke-width="2.1"/><path d="M1973.6 1057.6H1982.4M1978.0 1053.3V1061.9" stroke="#111" stroke-width="1.9" fill="none"/><path d="M1978.0 956.4L1981.4 962.9L1974.6 962.9Z" fill="#8a1010" stroke="#1a0303" stroke-width="1.8" stroke-linejoin="round"/><path d="M1978.0 1041.3L1981.4 1047.8L1974.6 1047.8Z" fill="#8a1010" stroke="#1a0303" stroke-width="1.8" stroke-linejoin="round"/><path d="M1978.0 1058.6L1981.4 1065.1L1974.6 1065.1Z" fill="#8a1010" stroke="#1a0303" stroke-width="1.8" stroke-linejoin="round"/><path d="M1978.0 1178.4L1981.4 1184.9L1974.6 1184.9Z" fill="#8a1010" stroke="#1a0303" stroke-width="1.8" stroke-linejoin="round"/><text x="1978.0" y="937.5" font-size="17.6" font-weight="bold" fill="#8b1414" text-anchor="middle">a</text><path d="M2032.0 991.8V1039.9M2032.0 1203.9V1229.3M2022.4 991.8H2041.6M2022.4 1229.3H2041.6" stroke="#111" stroke-width="2.1" fill="none"/><rect x="2015.1" y="1039.9" width="33.8" height="164.0" fill="#c4827c" stroke="#111" stroke-width="1.8"/><path d="M2015.1 1110.1H2048.9" stroke="#111" stroke-width="2.1"/><path d="M2027.6 1120.3H2036.4M2032.0 1116.0V1124.6" stroke="#111" stroke-width="1.9" fill="none"/><path d="M2032.0 988.7L2035.4 995.2L2028.6 995.2Z" fill="#8a1010" stroke="#1a0303" stroke-width="1.8" stroke-linejoin="round"/><path d="M2032.0 1082.8L2035.4 1089.3L2028.6 1089.3Z" fill="#8a1010" stroke="#1a0303" stroke-width="1.8" stroke-linejoin="round"/><path d="M2032.0 1107.0L2035.4 1113.5L2028.6 1113.5Z" fill="#8a1010" stroke="#1a0303" stroke-width="1.8" stroke-linejoin="round"/><path d="M2032.0 1178.4L2035.4 1184.9L2028.6 1184.9Z" fill="#8a1010" stroke="#1a0303" stroke-width="1.8" stroke-linejoin="round"/><path d="M2032.0 1226.4L2035.4 1232.9L2028.6 1232.9Z" fill="#8a1010" stroke="#1a0303" stroke-width="1.8" stroke-linejoin="round"/><text x="2032.0" y="969.8" font-size="17.6" font-weight="bold" fill="#8b1414" text-anchor="middle">a</text><line x1="372.3" y1="1331.0" x2="372.3" y2="1857.6" stroke="#333" stroke-width="2" stroke-dasharray="5.4,2.7"/><rect x="175.5" y="1331.0" width="393.0" height="523.6" fill="none" stroke="#111" stroke-width="1.8"/><path d="M166.5 1854.6H175.5" stroke="#111" stroke-width="1.8"/><text transform="translate(158.9,1866.7) scale(0.97,1)" font-size="33" text-anchor="end">0</text><path d="M166.5 1723.7H175.5" stroke="#111" stroke-width="1.8"/><text transform="translate(158.9,1735.8) scale(0.97,1)" font-size="33" text-anchor="end">70</text><path d="M166.5 1592.8H175.5" stroke="#111" stroke-width="1.8"/><text transform="translate(158.9,1604.9) scale(0.97,1)" font-size="33" text-anchor="end">140</text><path d="M166.5 1461.9H175.5" stroke="#111" stroke-width="1.8"/><text transform="translate(158.9,1474.0) scale(0.97,1)" font-size="33" text-anchor="end">210</text><path d="M166.5 1331.0H175.5" stroke="#111" stroke-width="1.8"/><text transform="translate(158.9,1343.1) scale(0.97,1)" font-size="33" text-anchor="end">280</text><path d="M229.1 1854.6V1863.6" stroke="#111" stroke-width="1.8"/><path d="M282.6 1854.6V1863.6" stroke="#111" stroke-width="1.8"/><path d="M336.3 1854.6V1863.6" stroke="#111" stroke-width="1.8"/><path d="M407.7 1854.6V1863.6" stroke="#111" stroke-width="1.8"/><path d="M461.4 1854.6V1863.6" stroke="#111" stroke-width="1.8"/><path d="M514.9 1854.6V1863.6" stroke="#111" stroke-width="1.8"/><text transform="translate(75.2,1580.4) rotate(-90) scale(0.975,1)" font-size="32.5" text-anchor="middle">Sucrose (µmol gDW<tspan font-size="23" dy="-9.5">-1</tspan><tspan dy="9.5">)</tspan></text><path d="M229.1 1448.7V1483.2M229.1 1563.9V1601.5M219.5 1448.7H238.7M219.5 1601.5H238.7" stroke="#111" stroke-width="2.1" fill="none"/><rect x="212.2" y="1483.2" width="33.8" height="80.7" fill="#ababab" stroke="#111" stroke-width="1.8"/><path d="M212.2 1512.5H246.0" stroke="#111" stroke-width="2.1"/><path d="M224.7 1522.4H233.5M229.1 1518.1V1526.7" stroke="#111" stroke-width="1.9" fill="none"/><circle cx="229.1" cy="1448.7" r="3.3" fill="#5a5a5a" stroke="#111" stroke-width="1.9"/><circle cx="229.1" cy="1474.7" r="3.3" fill="#5a5a5a" stroke="#111" stroke-width="1.9"/><circle cx="229.1" cy="1504" r="3.3" fill="#5a5a5a" stroke="#111" stroke-width="1.9"/><circle cx="229.1" cy="1507.9" r="3.3" fill="#5a5a5a" stroke="#111" stroke-width="1.9"/><circle cx="229.1" cy="1514.3" r="3.3" fill="#5a5a5a" stroke="#111" stroke-width="1.9"/><circle cx="229.1" cy="1535.1" r="3.3" fill="#5a5a5a" stroke="#111" stroke-width="1.9"/><circle cx="229.1" cy="1563.9" r="3.3" fill="#5a5a5a" stroke="#111" stroke-width="1.9"/><circle cx="229.1" cy="1567.3" r="3.3" fill="#5a5a5a" stroke="#111" stroke-width="1.9"/><circle cx="229.1" cy="1601.5" r="3.3" fill="#5a5a5a" stroke="#111" stroke-width="1.9"/><text x="229.1" y="1426.1" font-size="17.6" font-weight="bold" fill="#8b1414" text-anchor="middle">a</text><path d="M282.6 1492V1530M282.6 1648.1V1676.9M273.0 1492H292.2M273.0 1676.9H292.2" stroke="#111" stroke-width="2.1" fill="none"/><rect x="265.7" y="1530" width="33.8" height="118.1" fill="#ababab" stroke="#111" stroke-width="1.8"/><path d="M265.7 1578.2H299.5" stroke="#111" stroke-width="2.1"/><path d="M278.2 1584.6H287.0M282.6 1580.3V1588.9" stroke="#111" stroke-width="1.9" fill="none"/><circle cx="282.6" cy="1492" r="3.3" fill="#5a5a5a" stroke="#111" stroke-width="1.9"/><circle cx="282.6" cy="1510.9" r="3.3" fill="#5a5a5a" stroke="#111" stroke-width="1.9"/><circle cx="282.6" cy="1528.6" r="3.3" fill="#5a5a5a" stroke="#111" stroke-width="1.9"/><circle cx="282.6" cy="1562.7" r="3.3" fill="#5a5a5a" stroke="#111" stroke-width="1.9"/><circle cx="282.6" cy="1565" r="3.3" fill="#5a5a5a" stroke="#111" stroke-width="1.9"/><circle cx="282.6" cy="1575.4" r="3.3" fill="#5a5a5a" stroke="#111" stroke-width="1.9"/><circle cx="282.6" cy="1578.8" r="3.3" fill="#5a5a5a" stroke="#111" stroke-width="1.9"/><circle cx="282.6" cy="1595.8" r="3.3" fill="#5a5a5a" stroke="#111" stroke-width="1.9"/><circle cx="282.6" cy="1603.4" r="3.3" fill="#5a5a5a" stroke="#111" stroke-width="1.9"/><circle cx="282.6" cy="1610.7" r="3.3" fill="#5a5a5a" stroke="#111" stroke-width="1.9"/><circle cx="282.6" cy="1648.8" r="3.3" fill="#5a5a5a" stroke="#111" stroke-width="1.9"/><circle cx="282.6" cy="1651.1" r="3.3" fill="#5a5a5a" stroke="#111" stroke-width="1.9"/><circle cx="282.6" cy="1670.2" r="3.3" fill="#5a5a5a" stroke="#111" stroke-width="1.9"/><circle cx="282.6" cy="1676.9" r="3.3" fill="#5a5a5a" stroke="#111" stroke-width="1.9"/><text x="282.6" y="1469.9" font-size="17.6" font-weight="bold" fill="#8b1414" text-anchor="middle">a b</text><path d="M336.3 1430.2V1528.8M336.3 1661V1679.9M326.7 1430.2H345.9M326.7 1679.9H345.9" stroke="#111" stroke-width="2.1" fill="none"/><rect x="319.4" y="1528.8" width="33.8" height="132.2" fill="#ababab" stroke="#111" stroke-width="1.8"/><path d="M319.4 1626.4H353.2" stroke="#111" stroke-width="2.1"/><path d="M331.9 1592.5H340.7M336.3 1588.2V1596.8" stroke="#111" stroke-width="1.9" fill="none"/><circle cx="336.3" cy="1430.2" r="3.3" fill="#5a5a5a" stroke="#111" stroke-width="1.9"/><circle cx="336.3" cy="1494.3" r="3.3" fill="#5a5a5a" stroke="#111" stroke-width="1.9"/><circle cx="336.3" cy="1509.3" r="3.3" fill="#5a5a5a" stroke="#111" stroke-width="1.9"/><circle cx="336.3" cy="1546.6" r="3.3" fill="#5a5a5a" stroke="#111" stroke-width="1.9"/><circle cx="336.3" cy="1561.6" r="3.3" fill="#5a5a5a" stroke="#111" stroke-width="1.9"/><circle cx="336.3" cy="1575.9" r="3.3" fill="#5a5a5a" stroke="#111" stroke-width="1.9"/><circle cx="336.3" cy="1626.9" r="3.3" fill="#5a5a5a" stroke="#111" stroke-width="1.9"/><circle cx="336.3" cy="1631.5" r="3.3" fill="#5a5a5a" stroke="#111" stroke-width="1.9"/><circle cx="336.3" cy="1646.5" r="3.3" fill="#5a5a5a" stroke="#111" stroke-width="1.9"/><circle cx="336.3" cy="1658" r="3.3" fill="#5a5a5a" stroke="#111" stroke-width="1.9"/><circle cx="336.3" cy="1665.6" r="3.3" fill="#5a5a5a" stroke="#111" stroke-width="1.9"/><circle cx="336.3" cy="1673.4" r="3.3" fill="#5a5a5a" stroke="#111" stroke-width="1.9"/><circle cx="336.3" cy="1679.9" r="3.3" fill="#5a5a5a" stroke="#111" stroke-width="1.9"/><text x="336.3" y="1407.7" font-size="17.6" font-weight="bold" fill="#8b1414" text-anchor="middle">a b</text><path d="M407.7 1455.1V1599.7M407.7 1707V1713.3M398.1 1455.1H417.3M398.1 1713.3H417.3" stroke="#111" stroke-width="2.1" fill="none"/><rect x="390.8" y="1599.7" width="33.8" height="107.3" fill="#c4827c" stroke="#111" stroke-width="1.8"/><path d="M390.8 1671.8H424.6" stroke="#111" stroke-width="2.1"/><path d="M403.3 1644.8H412.1M407.7 1640.5V1649.1" stroke="#111" stroke-width="1.9" fill="none"/><path d="M407.7 1451.5L411.1 1458.0L404.3 1458.0Z" fill="#8a1010" stroke="#1a0303" stroke-width="1.8" stroke-linejoin="round"/><path d="M407.7 1645.2L411.1 1651.7L404.3 1651.7Z" fill="#8a1010" stroke="#1a0303" stroke-width="1.8" stroke-linejoin="round"/><path d="M407.7 1692.4L411.1 1698.9L404.3 1698.9Z" fill="#8a1010" stroke="#1a0303" stroke-width="1.8" stroke-linejoin="round"/><path d="M407.7 1702.8L411.1 1709.3L404.3 1709.3Z" fill="#8a1010" stroke="#1a0303" stroke-width="1.8" stroke-linejoin="round"/><path d="M407.7 1710.1L411.1 1716.6L404.3 1716.6Z" fill="#8a1010" stroke="#1a0303" stroke-width="1.8" stroke-linejoin="round"/><text x="407.7" y="1431.9" font-size="17.6" font-weight="bold" fill="#8b1414" text-anchor="middle">b</text><path d="M461.4 1596.5V1630.8M461.4 1685.2V1697.6M451.8 1596.5H471.0M451.8 1697.6H471.0" stroke="#111" stroke-width="2.1" fill="none"/><rect x="444.5" y="1630.8" width="33.8" height="54.4" fill="#c4827c" stroke="#111" stroke-width="1.8"/><path d="M444.5 1679.9H478.3" stroke="#111" stroke-width="2.1"/><path d="M457.0 1663.3H465.8M461.4 1659.0V1667.6" stroke="#111" stroke-width="1.9" fill="none"/><path d="M461.4 1593.3L464.8 1599.8L458.0 1599.8Z" fill="#8a1010" stroke="#1a0303" stroke-width="1.8" stroke-linejoin="round"/><path d="M461.4 1638.2L464.8 1644.7L458.0 1644.7Z" fill="#8a1010" stroke="#1a0303" stroke-width="1.8" stroke-linejoin="round"/><path d="M461.4 1675.1L464.8 1681.6L458.0 1681.6Z" fill="#8a1010" stroke="#1a0303" stroke-width="1.8" stroke-linejoin="round"/><path d="M461.4 1678.6L464.8 1685.1L458.0 1685.1Z" fill="#8a1010" stroke="#1a0303" stroke-width="1.8" stroke-linejoin="round"/><path d="M461.4 1694.7L464.8 1701.2L458.0 1701.2Z" fill="#8a1010" stroke="#1a0303" stroke-width="1.8" stroke-linejoin="round"/><text x="461.4" y="1573.6" font-size="17.6" font-weight="bold" fill="#8b1414" text-anchor="middle">b</text><path d="M514.9 1610.7V1622.7M514.9 1682.2V1729.4M505.3 1610.7H524.5M505.3 1729.4H524.5" stroke="#111" stroke-width="2.1" fill="none"/><rect x="498.0" y="1622.7" width="33.8" height="59.5" fill="#c4827c" stroke="#111" stroke-width="1.8"/><path d="M498.0 1636.8H531.8" stroke="#111" stroke-width="2.1"/><path d="M510.5 1651.8H519.3M514.9 1647.5V1656.1" stroke="#111" stroke-width="1.9" fill="none"/><path d="M514.9 1607.6L518.3 1614.1L511.5 1614.1Z" fill="#8a1010" stroke="#1a0303" stroke-width="1.8" stroke-linejoin="round"/><path d="M514.9 1622.8L518.3 1629.3L511.5 1629.3Z" fill="#8a1010" stroke="#1a0303" stroke-width="1.8" stroke-linejoin="round"/><path d="M514.9 1629.0L518.3 1635.5L511.5 1635.5Z" fill="#8a1010" stroke="#1a0303" stroke-width="1.8" stroke-linejoin="round"/><path d="M514.9 1638.9L518.3 1645.4L511.5 1645.4Z" fill="#8a1010" stroke="#1a0303" stroke-width="1.8" stroke-linejoin="round"/><path d="M514.9 1664.3L518.3 1670.8L511.5 1670.8Z" fill="#8a1010" stroke="#1a0303" stroke-width="1.8" stroke-linejoin="round"/><path d="M514.9 1726.5L518.3 1733.0L511.5 1733.0Z" fill="#8a1010" stroke="#1a0303" stroke-width="1.8" stroke-linejoin="round"/><text x="514.9" y="1588.1" font-size="17.6" font-weight="bold" fill="#8b1414" text-anchor="middle">b</text><line x1="1135.9" y1="1331.0" x2="1135.9" y2="1857.8" stroke="#333" stroke-width="2" stroke-dasharray="5.4,2.7"/><rect x="939.3" y="1331.0" width="393.0" height="523.8" fill="none" stroke="#111" stroke-width="1.8"/><path d="M930.3 1854.8H939.3" stroke="#111" stroke-width="1.8"/><text transform="translate(922.7,1866.9) scale(0.97,1)" font-size="33" text-anchor="end">0</text><path d="M930.3 1750.0H939.3" stroke="#111" stroke-width="1.8"/><text transform="translate(922.7,1762.1) scale(0.97,1)" font-size="33" text-anchor="end">50</text><path d="M930.3 1645.3H939.3" stroke="#111" stroke-width="1.8"/><text transform="translate(922.7,1657.4) scale(0.97,1)" font-size="33" text-anchor="end">100</text><path d="M930.3 1540.5H939.3" stroke="#111" stroke-width="1.8"/><text transform="translate(922.7,1552.6) scale(0.97,1)" font-size="33" text-anchor="end">150</text><path d="M930.3 1435.8H939.3" stroke="#111" stroke-width="1.8"/><text transform="translate(922.7,1447.9) scale(0.97,1)" font-size="33" text-anchor="end">200</text><path d="M930.3 1331.0H939.3" stroke="#111" stroke-width="1.8"/><text transform="translate(922.7,1343.1) scale(0.97,1)" font-size="33" text-anchor="end">250</text><path d="M992.8 1854.8V1863.8" stroke="#111" stroke-width="1.8"/><path d="M1046.0 1854.8V1863.8" stroke="#111" stroke-width="1.8"/><path d="M1099.4 1854.8V1863.8" stroke="#111" stroke-width="1.8"/><path d="M1171.1 1854.8V1863.8" stroke="#111" stroke-width="1.8"/><path d="M1224.6 1854.8V1863.8" stroke="#111" stroke-width="1.8"/><path d="M1278.0 1854.8V1863.8" stroke="#111" stroke-width="1.8"/><text transform="translate(839.3,1580.4) rotate(-90) scale(0.975,1)" font-size="32.5" text-anchor="middle">Sucrose (µmol gDW<tspan font-size="23" dy="-9.5">-1</tspan><tspan dy="9.5">)</tspan></text><path d="M992.8 1455.6V1557M992.8 1659.8V1682.2M983.2 1455.6H1002.4M983.2 1682.2H1002.4" stroke="#111" stroke-width="2.1" fill="none"/><rect x="975.9" y="1557" width="33.8" height="102.8" fill="#ababab" stroke="#111" stroke-width="1.8"/><path d="M975.9 1644.8H1009.7" stroke="#111" stroke-width="2.1"/><path d="M988.4 1611.2H997.2M992.8 1606.9V1615.5" stroke="#111" stroke-width="1.9" fill="none"/><circle cx="992.8" cy="1455.6" r="3.3" fill="#5a5a5a" stroke="#111" stroke-width="1.9"/><circle cx="992.8" cy="1513.2" r="3.3" fill="#5a5a5a" stroke="#111" stroke-width="1.9"/><circle cx="992.8" cy="1551.9" r="3.3" fill="#5a5a5a" stroke="#111" stroke-width="1.9"/><circle cx="992.8" cy="1567.3" r="3.3" fill="#5a5a5a" stroke="#111" stroke-width="1.9"/><circle cx="992.8" cy="1639.5" r="3.3" fill="#5a5a5a" stroke="#111" stroke-width="1.9"/><circle cx="992.8" cy="1643" r="3.3" fill="#5a5a5a" stroke="#111" stroke-width="1.9"/><circle cx="992.8" cy="1647.6" r="3.3" fill="#5a5a5a" stroke="#111" stroke-width="1.9"/><circle cx="992.8" cy="1653.4" r="3.3" fill="#5a5a5a" stroke="#111" stroke-width="1.9"/><circle cx="992.8" cy="1663.3" r="3.3" fill="#5a5a5a" stroke="#111" stroke-width="1.9"/><circle cx="992.8" cy="1666" r="3.3" fill="#5a5a5a" stroke="#111" stroke-width="1.9"/><circle cx="992.8" cy="1682.2" r="3.3" fill="#5a5a5a" stroke="#111" stroke-width="1.9"/><text x="992.8" y="1432.3" font-size="17.6" font-weight="bold" fill="#8b1414" text-anchor="middle">a</text><path d="M1046.0 1591.6V1619.3M1046.0 1689.1V1705.9M1036.4 1591.6H1055.6M1036.4 1705.9H1055.6" stroke="#111" stroke-width="2.1" fill="none"/><rect x="1029.1" y="1619.3" width="33.8" height="69.8" fill="#ababab" stroke="#111" stroke-width="1.8"/><path d="M1029.1 1678.2H1062.9" stroke="#111" stroke-width="2.1"/><path d="M1041.6 1656.8H1050.4M1046.0 1652.5V1661.1" stroke="#111" stroke-width="1.9" fill="none"/><circle cx="1046.0" cy="1591.8" r="3.3" fill="#5a5a5a" stroke="#111" stroke-width="1.9"/><circle cx="1046.0" cy="1608" r="3.3" fill="#5a5a5a" stroke="#111" stroke-width="1.9"/><circle cx="1046.0" cy="1611.2" r="3.3" fill="#5a5a5a" stroke="#111" stroke-width="1.9"/><circle cx="1046.0" cy="1624.6" r="3.3" fill="#5a5a5a" stroke="#111" stroke-width="1.9"/><circle cx="1046.0" cy="1627.6" r="3.3" fill="#5a5a5a" stroke="#111" stroke-width="1.9"/><circle cx="1046.0" cy="1659.1" r="3.3" fill="#5a5a5a" stroke="#111" stroke-width="1.9"/><circle cx="1046.0" cy="1678.2" r="3.3" fill="#5a5a5a" stroke="#111" stroke-width="1.9"/><circle cx="1046.0" cy="1684.5" r="3.3" fill="#5a5a5a" stroke="#111" stroke-width="1.9"/><circle cx="1046.0" cy="1689.1" r="3.3" fill="#5a5a5a" stroke="#111" stroke-width="1.9"/><circle cx="1046.0" cy="1694.8" r="3.3" fill="#5a5a5a" stroke="#111" stroke-width="1.9"/><circle cx="1046.0" cy="1705.9" r="3.3" fill="#5a5a5a" stroke="#111" stroke-width="1.9"/><text x="1046.0" y="1569.0" font-size="17.6" font-weight="bold" fill="#8b1414" text-anchor="middle">a b</text><path d="M1099.4 1564.6V1633.1M1099.4 1696.5V1729.4M1089.8 1564.6H1109.0M1089.8 1729.4H1109.0" stroke="#111" stroke-width="2.1" fill="none"/><rect x="1082.5" y="1633.1" width="33.8" height="63.4" fill="#ababab" stroke="#111" stroke-width="1.8"/><path d="M1082.5 1662.1H1116.3" stroke="#111" stroke-width="2.1"/><circle cx="1099.4" cy="1564.6" r="3.3" fill="#5a5a5a" stroke="#111" stroke-width="1.9"/><circle cx="1099.4" cy="1611.9" r="3.3" fill="#5a5a5a" stroke="#111" stroke-width="1.9"/><circle cx="1099.4" cy="1630.3" r="3.3" fill="#5a5a5a" stroke="#111" stroke-width="1.9"/><circle cx="1099.4" cy="1633.8" r="3.3" fill="#5a5a5a" stroke="#111" stroke-width="1.9"/><circle cx="1099.4" cy="1638.8" r="3.3" fill="#5a5a5a" stroke="#111" stroke-width="1.9"/><circle cx="1099.4" cy="1658" r="3.3" fill="#5a5a5a" stroke="#111" stroke-width="1.9"/><circle cx="1099.4" cy="1661.4" r="3.3" fill="#5a5a5a" stroke="#111" stroke-width="1.9"/><circle cx="1099.4" cy="1664.9" r="3.3" fill="#5a5a5a" stroke="#111" stroke-width="1.9"/><circle cx="1099.4" cy="1677.1" r="3.3" fill="#5a5a5a" stroke="#111" stroke-width="1.9"/><circle cx="1099.4" cy="1696.5" r="3.3" fill="#5a5a5a" stroke="#111" stroke-width="1.9"/><circle cx="1099.4" cy="1699.4" r="3.3" fill="#5a5a5a" stroke="#111" stroke-width="1.9"/><circle cx="1099.4" cy="1721.8" r="3.3" fill="#5a5a5a" stroke="#111" stroke-width="1.9"/><circle cx="1099.4" cy="1729.4" r="3.3" fill="#5a5a5a" stroke="#111" stroke-width="1.9"/><text x="1099.4" y="1541.3" font-size="17.6" font-weight="bold" fill="#8b1414" text-anchor="middle">a b</text><path d="M1171.1 1671.3V1691.4M1171.1 1718.6V1721.3M1161.5 1671.3H1180.7M1161.5 1721.3H1180.7" stroke="#111" stroke-width="2.1" fill="none"/><rect x="1154.2" y="1691.4" width="33.8" height="27.2" fill="#c4827c" stroke="#111" stroke-width="1.8"/><path d="M1154.2 1715.6H1188.0" stroke="#111" stroke-width="2.1"/><path d="M1166.7 1706.4H1175.5M1171.1 1702.1V1710.7" stroke="#111" stroke-width="1.9" fill="none"/><path d="M1171.1 1668.2L1174.5 1674.7L1167.7 1674.7Z" fill="#8a1010" stroke="#1a0303" stroke-width="1.8" stroke-linejoin="round"/><path d="M1171.1 1706.2L1174.5 1712.7L1167.7 1712.7Z" fill="#8a1010" stroke="#1a0303" stroke-width="1.8" stroke-linejoin="round"/><path d="M1171.1 1710.8L1174.5 1717.3L1167.7 1717.3Z" fill="#8a1010" stroke="#1a0303" stroke-width="1.8" stroke-linejoin="round"/><path d="M1171.1 1716.6L1174.5 1723.1L1167.7 1723.1Z" fill="#8a1010" stroke="#1a0303" stroke-width="1.8" stroke-linejoin="round"/><text x="1171.1" y="1649.3" font-size="17.6" font-weight="bold" fill="#8b1414" text-anchor="middle">b</text><path d="M1224.6 1654.5V1668.3M1224.6 1691.8V1708.7M1215.0 1654.5H1234.2M1215.0 1708.7H1234.2" stroke="#111" stroke-width="2.1" fill="none"/><rect x="1207.7" y="1668.3" width="33.8" height="23.5" fill="#c4827c" stroke="#111" stroke-width="1.8"/><path d="M1207.7 1681.7H1241.5" stroke="#111" stroke-width="2.1"/><path d="M1224.6 1651.4L1228.0 1657.9L1221.2 1657.9Z" fill="#8a1010" stroke="#1a0303" stroke-width="1.8" stroke-linejoin="round"/><path d="M1224.6 1668.9L1228.0 1675.4L1221.2 1675.4Z" fill="#8a1010" stroke="#1a0303" stroke-width="1.8" stroke-linejoin="round"/><path d="M1224.6 1674.4L1228.0 1680.9L1221.2 1680.9Z" fill="#8a1010" stroke="#1a0303" stroke-width="1.8" stroke-linejoin="round"/><path d="M1224.6 1685.0L1228.0 1691.5L1221.2 1691.5Z" fill="#8a1010" stroke="#1a0303" stroke-width="1.8" stroke-linejoin="round"/><path d="M1224.6 1705.8L1228.0 1712.3L1221.2 1712.3Z" fill="#8a1010" stroke="#1a0303" stroke-width="1.8" stroke-linejoin="round"/><text x="1224.6" y="1631.5" font-size="17.6" font-weight="bold" fill="#8b1414" text-anchor="middle">b</text><path d="M1278.0 1653.4V1678.7M1278.0 1716.3V1720.6M1268.4 1653.4H1287.6M1268.4 1720.6H1287.6" stroke="#111" stroke-width="2.1" fill="none"/><rect x="1261.1" y="1678.7" width="33.8" height="37.6" fill="#c4827c" stroke="#111" stroke-width="1.8"/><path d="M1261.1 1714.9H1294.9" stroke="#111" stroke-width="2.1"/><path d="M1273.6 1701.1H1282.4M1278.0 1696.8V1705.4" stroke="#111" stroke-width="1.9" fill="none"/><path d="M1278.0 1650.2L1281.4 1656.7L1274.6 1656.7Z" fill="#8a1010" stroke="#1a0303" stroke-width="1.8" stroke-linejoin="round"/><path d="M1278.0 1683.2L1281.4 1689.7L1274.6 1689.7Z" fill="#8a1010" stroke="#1a0303" stroke-width="1.8" stroke-linejoin="round"/><path d="M1278.0 1712.0L1281.4 1718.5L1274.6 1718.5Z" fill="#8a1010" stroke="#1a0303" stroke-width="1.8" stroke-linejoin="round"/><path d="M1278.0 1717.7L1281.4 1724.2L1274.6 1724.2Z" fill="#8a1010" stroke="#1a0303" stroke-width="1.8" stroke-linejoin="round"/><text x="1278.0" y="1630.8" font-size="17.6" font-weight="bold" fill="#8b1414" text-anchor="middle">b</text><line x1="1889.5" y1="1333.5" x2="1889.5" y2="1859.8" stroke="#333" stroke-width="2" stroke-dasharray="5.4,2.7"/><rect x="1692.7" y="1333.5" width="393.3" height="523.3" fill="none" stroke="#111" stroke-width="1.8"/><path d="M1683.7 1856.8H1692.7" stroke="#111" stroke-width="1.8"/><text transform="translate(1676.1,1868.9) scale(0.97,1)" font-size="33" text-anchor="end">0</text><path d="M1683.7 1726.0H1692.7" stroke="#111" stroke-width="1.8"/><text transform="translate(1676.1,1738.1) scale(0.97,1)" font-size="33" text-anchor="end">200</text><path d="M1683.7 1595.2H1692.7" stroke="#111" stroke-width="1.8"/><text transform="translate(1676.1,1607.2) scale(0.97,1)" font-size="33" text-anchor="end">400</text><path d="M1683.7 1464.3H1692.7" stroke="#111" stroke-width="1.8"/><text transform="translate(1676.1,1476.4) scale(0.97,1)" font-size="33" text-anchor="end">600</text><path d="M1683.7 1333.5H1692.7" stroke="#111" stroke-width="1.8"/><text transform="translate(1676.1,1345.6) scale(0.97,1)" font-size="33" text-anchor="end">800</text><path d="M1746.2 1856.8V1865.8" stroke="#111" stroke-width="1.8"/><path d="M1799.9 1856.8V1865.8" stroke="#111" stroke-width="1.8"/><path d="M1853.1 1856.8V1865.8" stroke="#111" stroke-width="1.8"/><path d="M1924.6 1856.8V1865.8" stroke="#111" stroke-width="1.8"/><path d="M1978.0 1856.8V1865.8" stroke="#111" stroke-width="1.8"/><path d="M2032.0 1856.8V1865.8" stroke="#111" stroke-width="1.8"/><text transform="translate(1591.0,1580.4) rotate(-90) scale(0.975,1)" font-size="32.5" text-anchor="middle">Sucrose (µmol gDW<tspan font-size="23" dy="-9.5">-1</tspan><tspan dy="9.5">)</tspan></text><path d="M1746.2 1565V1584.1M1746.2 1661V1699M1736.6 1565H1755.8M1736.6 1699H1755.8" stroke="#111" stroke-width="2.1" fill="none"/><rect x="1729.3" y="1584.1" width="33.8" height="76.9" fill="#ababab" stroke="#111" stroke-width="1.8"/><path d="M1729.3 1592.5H1763.1" stroke="#111" stroke-width="2.1"/><path d="M1741.8 1617.2H1750.6M1746.2 1612.9V1621.5" stroke="#111" stroke-width="1.9" fill="none"/><circle cx="1746.2" cy="1565" r="3.3" fill="#5a5a5a" stroke="#111" stroke-width="1.9"/><circle cx="1746.2" cy="1568.5" r="3.3" fill="#5a5a5a" stroke="#111" stroke-width="1.9"/><circle cx="1746.2" cy="1582.3" r="3.3" fill="#5a5a5a" stroke="#111" stroke-width="1.9"/><circle cx="1746.2" cy="1585.3" r="3.3" fill="#5a5a5a" stroke="#111" stroke-width="1.9"/><circle cx="1746.2" cy="1593.5" r="3.3" fill="#5a5a5a" stroke="#111" stroke-width="1.9"/><circle cx="1746.2" cy="1620.4" r="3.3" fill="#5a5a5a" stroke="#111" stroke-width="1.9"/><circle cx="1746.2" cy="1642.3" r="3.3" fill="#5a5a5a" stroke="#111" stroke-width="1.9"/><circle cx="1746.2" cy="1655" r="3.3" fill="#5a5a5a" stroke="#111" stroke-width="1.9"/><circle cx="1746.2" cy="1669" r="3.3" fill="#5a5a5a" stroke="#111" stroke-width="1.9"/><circle cx="1746.2" cy="1672.3" r="3.3" fill="#5a5a5a" stroke="#111" stroke-width="1.9"/><circle cx="1746.2" cy="1699" r="3.3" fill="#5a5a5a" stroke="#111" stroke-width="1.9"/><text x="1746.2" y="1542.0" font-size="17.6" font-weight="bold" fill="#8b1414" text-anchor="middle">a b</text><path d="M1799.9 1497V1558.1M1799.9 1636.1V1665.6M1790.3 1497H1809.5M1790.3 1665.6H1809.5" stroke="#111" stroke-width="2.1" fill="none"/><rect x="1783.0" y="1558.1" width="33.8" height="78.0" fill="#ababab" stroke="#111" stroke-width="1.8"/><path d="M1783.0 1595.4H1816.8" stroke="#111" stroke-width="2.1"/><path d="M1795.5 1592.8H1804.3M1799.9 1588.5V1597.1" stroke="#111" stroke-width="1.9" fill="none"/><circle cx="1799.9" cy="1497" r="3.3" fill="#5a5a5a" stroke="#111" stroke-width="1.9"/><circle cx="1799.9" cy="1501.7" r="3.3" fill="#5a5a5a" stroke="#111" stroke-width="1.9"/><circle cx="1799.9" cy="1551.7" r="3.3" fill="#5a5a5a" stroke="#111" stroke-width="1.9"/><circle cx="1799.9" cy="1559.3" r="3.3" fill="#5a5a5a" stroke="#111" stroke-width="1.9"/><circle cx="1799.9" cy="1568.5" r="3.3" fill="#5a5a5a" stroke="#111" stroke-width="1.9"/><circle cx="1799.9" cy="1580" r="3.3" fill="#5a5a5a" stroke="#111" stroke-width="1.9"/><circle cx="1799.9" cy="1588.1" r="3.3" fill="#5a5a5a" stroke="#111" stroke-width="1.9"/><circle cx="1799.9" cy="1595" r="3.3" fill="#5a5a5a" stroke="#111" stroke-width="1.9"/><circle cx="1799.9" cy="1602" r="3.3" fill="#5a5a5a" stroke="#111" stroke-width="1.9"/><circle cx="1799.9" cy="1618.1" r="3.3" fill="#5a5a5a" stroke="#111" stroke-width="1.9"/><circle cx="1799.9" cy="1622.3" r="3.3" fill="#5a5a5a" stroke="#111" stroke-width="1.9"/><circle cx="1799.9" cy="1630.3" r="3.3" fill="#5a5a5a" stroke="#111" stroke-width="1.9"/><circle cx="1799.9" cy="1656.8" r="3.3" fill="#5a5a5a" stroke="#111" stroke-width="1.9"/><circle cx="1799.9" cy="1664.9" r="3.3" fill="#5a5a5a" stroke="#111" stroke-width="1.9"/><circle cx="1799.9" cy="1666" r="3.3" fill="#5a5a5a" stroke="#111" stroke-width="1.9"/><text x="1799.9" y="1474.5" font-size="17.6" font-weight="bold" fill="#8b1414" text-anchor="middle">a</text><path d="M1853.1 1555.3V1568.5M1853.1 1640.7V1694.8M1843.5 1555.3H1862.7M1843.5 1694.8H1862.7" stroke="#111" stroke-width="2.1" fill="none"/><rect x="1836.2" y="1568.5" width="33.8" height="72.2" fill="#ababab" stroke="#111" stroke-width="1.8"/><path d="M1836.2 1600.4H1870.0" stroke="#111" stroke-width="2.1"/><path d="M1848.7 1607.3H1857.5M1853.1 1603.0V1611.6" stroke="#111" stroke-width="1.9" fill="none"/><circle cx="1853.1" cy="1555.3" r="3.3" fill="#5a5a5a" stroke="#111" stroke-width="1.9"/><circle cx="1853.1" cy="1560.4" r="3.3" fill="#5a5a5a" stroke="#111" stroke-width="1.9"/><circle cx="1853.1" cy="1563.9" r="3.3" fill="#5a5a5a" stroke="#111" stroke-width="1.9"/><circle cx="1853.1" cy="1580" r="3.3" fill="#5a5a5a" stroke="#111" stroke-width="1.9"/><circle cx="1853.1" cy="1582.8" r="3.3" fill="#5a5a5a" stroke="#111" stroke-width="1.9"/><circle cx="1853.1" cy="1617.6" r="3.3" fill="#5a5a5a" stroke="#111" stroke-width="1.9"/><circle cx="1853.1" cy="1620" r="3.3" fill="#5a5a5a" stroke="#111" stroke-width="1.9"/><circle cx="1853.1" cy="1641.2" r="3.3" fill="#5a5a5a" stroke="#111" stroke-width="1.9"/><circle cx="1853.1" cy="1652.7" r="3.3" fill="#5a5a5a" stroke="#111" stroke-width="1.9"/><circle cx="1853.1" cy="1694.8" r="3.3" fill="#5a5a5a" stroke="#111" stroke-width="1.9"/><text x="1853.1" y="1532.8" font-size="17.6" font-weight="bold" fill="#8b1414" text-anchor="middle">a b</text><path d="M1924.6 1608V1647.6M1924.6 1711V1761M1915.0 1608H1934.2M1915.0 1761H1934.2" stroke="#111" stroke-width="2.1" fill="none"/><rect x="1907.7" y="1647.6" width="33.8" height="63.4" fill="#c4827c" stroke="#111" stroke-width="1.8"/><path d="M1907.7 1680.6H1941.5" stroke="#111" stroke-width="2.1"/><path d="M1924.6 1604.8L1928.0 1611.3L1921.2 1611.3Z" fill="#8a1010" stroke="#1a0303" stroke-width="1.8" stroke-linejoin="round"/><path d="M1924.6 1656.7L1928.0 1663.2L1921.2 1663.2Z" fill="#8a1010" stroke="#1a0303" stroke-width="1.8" stroke-linejoin="round"/><path d="M1924.6 1672.3L1928.0 1678.8L1921.2 1678.8Z" fill="#8a1010" stroke="#1a0303" stroke-width="1.8" stroke-linejoin="round"/><path d="M1924.6 1682.0L1928.0 1688.5L1921.2 1688.5Z" fill="#8a1010" stroke="#1a0303" stroke-width="1.8" stroke-linejoin="round"/><path d="M1924.6 1692.4L1928.0 1698.9L1921.2 1698.9Z" fill="#8a1010" stroke="#1a0303" stroke-width="1.8" stroke-linejoin="round"/><path d="M1924.6 1758.1L1928.0 1764.6L1921.2 1764.6Z" fill="#8a1010" stroke="#1a0303" stroke-width="1.8" stroke-linejoin="round"/><text x="1924.6" y="1584.0" font-size="17.6" font-weight="bold" fill="#8b1414" text-anchor="middle">b</text><path d="M1978.0 1590.8V1606.6M1978.0 1659.8V1693M1968.4 1590.8H1987.6M1968.4 1693H1987.6" stroke="#111" stroke-width="2.1" fill="none"/><rect x="1961.1" y="1606.6" width="33.8" height="53.2" fill="#c4827c" stroke="#111" stroke-width="1.8"/><path d="M1961.1 1626.4H1994.9" stroke="#111" stroke-width="2.1"/><path d="M1973.6 1632.6H1982.4M1978.0 1628.3V1636.9" stroke="#111" stroke-width="1.9" fill="none"/><path d="M1978.0 1587.6L1981.4 1594.1L1974.6 1594.1Z" fill="#8a1010" stroke="#1a0303" stroke-width="1.8" stroke-linejoin="round"/><path d="M1978.0 1617.5L1981.4 1624.0L1974.6 1624.0Z" fill="#8a1010" stroke="#1a0303" stroke-width="1.8" stroke-linejoin="round"/><path d="M1978.0 1624.4L1981.4 1630.9L1974.6 1630.9Z" fill="#8a1010" stroke="#1a0303" stroke-width="1.8" stroke-linejoin="round"/><path d="M1978.0 1690.1L1981.4 1696.6L1974.6 1696.6Z" fill="#8a1010" stroke="#1a0303" stroke-width="1.8" stroke-linejoin="round"/><text x="1978.0" y="1567.4" font-size="17.6" font-weight="bold" fill="#8b1414" text-anchor="middle">a b</text><path d="M2032.0 1515.5V1584.6M2032.0 1676.4V1695.5M2022.4 1515.5H2041.6M2022.4 1695.5H2041.6" stroke="#111" stroke-width="2.1" fill="none"/><rect x="2015.1" y="1584.6" width="33.8" height="91.8" fill="#c4827c" stroke="#111" stroke-width="1.8"/><path d="M2015.1 1634.2H2048.9" stroke="#111" stroke-width="2.1"/><path d="M2027.6 1625.7H2036.4M2032.0 1621.4V1630.0" stroke="#111" stroke-width="1.9" fill="none"/><path d="M2032.0 1511.9L2035.4 1518.4L2028.6 1518.4Z" fill="#8a1010" stroke="#1a0303" stroke-width="1.8" stroke-linejoin="round"/><path d="M2032.0 1603.0L2035.4 1609.5L2028.6 1609.5Z" fill="#8a1010" stroke="#1a0303" stroke-width="1.8" stroke-linejoin="round"/><path d="M2032.0 1618.2L2035.4 1624.7L2028.6 1624.7Z" fill="#8a1010" stroke="#1a0303" stroke-width="1.8" stroke-linejoin="round"/><path d="M2032.0 1645.8L2035.4 1652.3L2028.6 1652.3Z" fill="#8a1010" stroke="#1a0303" stroke-width="1.8" stroke-linejoin="round"/><path d="M2032.0 1668.2L2035.4 1674.7L2028.6 1674.7Z" fill="#8a1010" stroke="#1a0303" stroke-width="1.8" stroke-linejoin="round"/><path d="M2032.0 1692.4L2035.4 1698.9L2028.6 1698.9Z" fill="#8a1010" stroke="#1a0303" stroke-width="1.8" stroke-linejoin="round"/><text x="2032.0" y="1492.9" font-size="17.6" font-weight="bold" fill="#8b1414" text-anchor="middle">a b</text><line x1="372.6" y1="1929.0" x2="372.6" y2="2454.8" stroke="#333" stroke-width="2" stroke-dasharray="5.4,2.7"/><rect x="175.7" y="1929.0" width="393.2" height="522.8" fill="none" stroke="#111" stroke-width="1.8"/><path d="M166.7 2451.8H175.7" stroke="#111" stroke-width="1.8"/><text transform="translate(159.1,2463.9) scale(0.97,1)" font-size="33" text-anchor="end">0</text><path d="M166.7 2321.1H175.7" stroke="#111" stroke-width="1.8"/><text transform="translate(159.1,2333.2) scale(0.97,1)" font-size="33" text-anchor="end">150</text><path d="M166.7 2190.4H175.7" stroke="#111" stroke-width="1.8"/><text transform="translate(159.1,2202.5) scale(0.97,1)" font-size="33" text-anchor="end">300</text><path d="M166.7 2059.7H175.7" stroke="#111" stroke-width="1.8"/><text transform="translate(159.1,2071.8) scale(0.97,1)" font-size="33" text-anchor="end">450</text><path d="M166.7 1929.0H175.7" stroke="#111" stroke-width="1.8"/><text transform="translate(159.1,1941.1) scale(0.97,1)" font-size="33" text-anchor="end">600</text><path d="M229.1 2451.8V2460.8" stroke="#111" stroke-width="1.8"/><path d="M282.8 2451.8V2460.8" stroke="#111" stroke-width="1.8"/><path d="M336.3 2451.8V2460.8" stroke="#111" stroke-width="1.8"/><path d="M407.7 2451.8V2460.8" stroke="#111" stroke-width="1.8"/><path d="M461.4 2451.8V2460.8" stroke="#111" stroke-width="1.8"/><path d="M514.9 2451.8V2460.8" stroke="#111" stroke-width="1.8"/><text transform="translate(75.2,2186.8) rotate(-90) scale(0.975,1)" font-size="32.5" text-anchor="middle">Starch (µmol gDW<tspan font-size="23" dy="-9.5">-1</tspan><tspan dy="9.5">)</tspan></text><path d="M229.1 2119V2174.3M229.1 2410.3V2416.1M219.5 2119H238.7M219.5 2416.1H238.7" stroke="#111" stroke-width="2.1" fill="none"/><rect x="212.2" y="2174.3" width="33.8" height="236.0" fill="#ababab" stroke="#111" stroke-width="1.8"/><path d="M212.2 2279H246.0" stroke="#111" stroke-width="2.1"/><path d="M224.7 2286.4H233.5M229.1 2282.1V2290.7" stroke="#111" stroke-width="1.9" fill="none"/><circle cx="229.1" cy="2119" r="3.3" fill="#5a5a5a" stroke="#111" stroke-width="1.9"/><circle cx="229.1" cy="2130.8" r="3.3" fill="#5a5a5a" stroke="#111" stroke-width="1.9"/><circle cx="229.1" cy="2187.8" r="3.3" fill="#5a5a5a" stroke="#111" stroke-width="1.9"/><circle cx="229.1" cy="2239.8" r="3.3" fill="#5a5a5a" stroke="#111" stroke-width="1.9"/><circle cx="229.1" cy="2266.8" r="3.3" fill="#5a5a5a" stroke="#111" stroke-width="1.9"/><circle cx="229.1" cy="2292.1" r="3.3" fill="#5a5a5a" stroke="#111" stroke-width="1.9"/><circle cx="229.1" cy="2401.1" r="3.3" fill="#5a5a5a" stroke="#111" stroke-width="1.9"/><circle cx="229.1" cy="2410.8" r="3.3" fill="#5a5a5a" stroke="#111" stroke-width="1.9"/><circle cx="229.1" cy="2416.1" r="3.3" fill="#5a5a5a" stroke="#111" stroke-width="1.9"/><text x="229.1" y="2096.0" font-size="17.6" font-weight="bold" fill="#8b1414" text-anchor="middle">a</text><path d="M282.8 2061.6V2116.2M282.8 2414.7V2425.8M273.2 2061.6H292.4M273.2 2425.8H292.4" stroke="#111" stroke-width="2.1" fill="none"/><rect x="265.9" y="2116.2" width="33.8" height="298.5" fill="#ababab" stroke="#111" stroke-width="1.8"/><path d="M265.9 2372.8H299.7" stroke="#111" stroke-width="2.1"/><path d="M278.4 2284.8H287.2M282.8 2280.5V2289.1" stroke="#111" stroke-width="1.9" fill="none"/><circle cx="282.8" cy="2061.6" r="3.3" fill="#5a5a5a" stroke="#111" stroke-width="1.9"/><circle cx="282.8" cy="2106.6" r="3.3" fill="#5a5a5a" stroke="#111" stroke-width="1.9"/><circle cx="282.8" cy="2119.2" r="3.3" fill="#5a5a5a" stroke="#111" stroke-width="1.9"/><circle cx="282.8" cy="2150.3" r="3.3" fill="#5a5a5a" stroke="#111" stroke-width="1.9"/><circle cx="282.8" cy="2337.8" r="3.3" fill="#5a5a5a" stroke="#111" stroke-width="1.9"/><circle cx="282.8" cy="2407.4" r="3.3" fill="#5a5a5a" stroke="#111" stroke-width="1.9"/><circle cx="282.8" cy="2413.6" r="3.3" fill="#5a5a5a" stroke="#111" stroke-width="1.9"/><circle cx="282.8" cy="2420" r="3.3" fill="#5a5a5a" stroke="#111" stroke-width="1.9"/><circle cx="282.8" cy="2425.8" r="3.3" fill="#5a5a5a" stroke="#111" stroke-width="1.9"/><text x="282.8" y="2039.1" font-size="17.6" font-weight="bold" fill="#8b1414" text-anchor="middle">a</text><path d="M336.3 2215.4V2279.9M336.3 2420.5V2435.5M326.7 2215.4H345.9M326.7 2435.5H345.9" stroke="#111" stroke-width="2.1" fill="none"/><rect x="319.4" y="2279.9" width="33.8" height="140.6" fill="#ababab" stroke="#111" stroke-width="1.8"/><path d="M319.4 2370.5H353.2" stroke="#111" stroke-width="2.1"/><path d="M331.9 2349.7H340.7M336.3 2345.4V2354.0" stroke="#111" stroke-width="1.9" fill="none"/><circle cx="336.3" cy="2215.4" r="3.3" fill="#5a5a5a" stroke="#111" stroke-width="1.9"/><circle cx="336.3" cy="2236.4" r="3.3" fill="#5a5a5a" stroke="#111" stroke-width="1.9"/><circle cx="336.3" cy="2293.3" r="3.3" fill="#5a5a5a" stroke="#111" stroke-width="1.9"/><circle cx="336.3" cy="2338.2" r="3.3" fill="#5a5a5a" stroke="#111" stroke-width="1.9"/><circle cx="336.3" cy="2368.9" r="3.3" fill="#5a5a5a" stroke="#111" stroke-width="1.9"/><circle cx="336.3" cy="2372.8" r="3.3" fill="#5a5a5a" stroke="#111" stroke-width="1.9"/><circle cx="336.3" cy="2394" r="3.3" fill="#5a5a5a" stroke="#111" stroke-width="1.9"/><circle cx="336.3" cy="2421.2" r="3.3" fill="#5a5a5a" stroke="#111" stroke-width="1.9"/><circle cx="336.3" cy="2435.5" r="3.3" fill="#5a5a5a" stroke="#111" stroke-width="1.9"/><text x="336.3" y="2192.6" font-size="17.6" font-weight="bold" fill="#8b1414" text-anchor="middle">a</text><path d="M407.7 2397.4V2409.2M407.7 2432.2V2433.8M398.1 2397.4H417.3M398.1 2433.8H417.3" stroke="#111" stroke-width="2.1" fill="none"/><rect x="390.8" y="2409.2" width="33.8" height="23.0" fill="#c4827c" stroke="#111" stroke-width="1.8"/><path d="M390.8 2428.1H424.6" stroke="#111" stroke-width="2.1"/><path d="M407.7 2393.8L411.1 2400.3L404.3 2400.3Z" fill="#8a1010" stroke="#1a0303" stroke-width="1.8" stroke-linejoin="round"/><path d="M407.7 2416.4L411.1 2422.9L404.3 2422.9Z" fill="#8a1010" stroke="#1a0303" stroke-width="1.8" stroke-linejoin="round"/><path d="M407.7 2424.5L411.1 2431.0L404.3 2431.0Z" fill="#8a1010" stroke="#1a0303" stroke-width="1.8" stroke-linejoin="round"/><path d="M407.7 2430.2L411.1 2436.7L404.3 2436.7Z" fill="#8a1010" stroke="#1a0303" stroke-width="1.8" stroke-linejoin="round"/><text x="407.7" y="2375.6" font-size="17.6" font-weight="bold" fill="#8b1414" text-anchor="middle">a</text><path d="M461.4 2324.9V2337.5M461.4 2424.6V2426.9M451.8 2324.9H471.0M451.8 2426.9H471.0" stroke="#111" stroke-width="2.1" fill="none"/><rect x="444.5" y="2337.5" width="33.8" height="87.1" fill="#c4827c" stroke="#111" stroke-width="1.8"/><path d="M444.5 2408.5H478.3" stroke="#111" stroke-width="2.1"/><path d="M457.0 2387.1H465.8M461.4 2382.8V2391.4" stroke="#111" stroke-width="1.9" fill="none"/><path d="M461.4 2321.3L464.8 2327.8L458.0 2327.8Z" fill="#8a1010" stroke="#1a0303" stroke-width="1.8" stroke-linejoin="round"/><path d="M461.4 2345.7L464.8 2352.2L458.0 2352.2Z" fill="#8a1010" stroke="#1a0303" stroke-width="1.8" stroke-linejoin="round"/><path d="M461.4 2405.4L464.8 2411.9L458.0 2411.9Z" fill="#8a1010" stroke="#1a0303" stroke-width="1.8" stroke-linejoin="round"/><path d="M461.4 2422.2L464.8 2428.7L458.0 2428.7Z" fill="#8a1010" stroke="#1a0303" stroke-width="1.8" stroke-linejoin="round"/><text x="461.4" y="2301.9" font-size="17.6" font-weight="bold" fill="#8b1414" text-anchor="middle">a</text><path d="M514.9 2324.9V2347.9M514.9 2438.5V2440.3M505.3 2324.9H524.5M505.3 2440.3H524.5" stroke="#111" stroke-width="2.1" fill="none"/><rect x="498.0" y="2347.9" width="33.8" height="90.6" fill="#c4827c" stroke="#111" stroke-width="1.8"/><path d="M498.0 2398.6H531.8" stroke="#111" stroke-width="2.1"/><path d="M510.5 2393.5H519.3M514.9 2389.2V2397.8" stroke="#111" stroke-width="1.9" fill="none"/><path d="M514.9 2322.0L518.3 2328.5L511.5 2328.5Z" fill="#8a1010" stroke="#1a0303" stroke-width="1.8" stroke-linejoin="round"/><path d="M514.9 2365.7L518.3 2372.2L511.5 2372.2Z" fill="#8a1010" stroke="#1a0303" stroke-width="1.8" stroke-linejoin="round"/><path d="M514.9 2395.2L518.3 2401.7L511.5 2401.7Z" fill="#8a1010" stroke="#1a0303" stroke-width="1.8" stroke-linejoin="round"/><path d="M514.9 2436.0L518.3 2442.5L511.5 2442.5Z" fill="#8a1010" stroke="#1a0303" stroke-width="1.8" stroke-linejoin="round"/><text x="514.9" y="2303.0" font-size="17.6" font-weight="bold" fill="#8b1414" text-anchor="middle">a</text><line x1="1135.3" y1="1928.8" x2="1135.3" y2="2455.9" stroke="#333" stroke-width="2" stroke-dasharray="5.4,2.7"/><rect x="937.8" y="1928.8" width="394.0" height="524.1" fill="none" stroke="#111" stroke-width="1.8"/><path d="M928.8 2452.9H937.8" stroke="#111" stroke-width="1.8"/><text transform="translate(921.2,2465.0) scale(0.97,1)" font-size="33" text-anchor="end">0</text><path d="M928.8 2321.9H937.8" stroke="#111" stroke-width="1.8"/><text transform="translate(921.2,2334.0) scale(0.97,1)" font-size="33" text-anchor="end">500</text><path d="M928.8 2190.8H937.8" stroke="#111" stroke-width="1.8"/><text transform="translate(921.2,2202.9) scale(0.97,1)" font-size="33" text-anchor="end">1000</text><path d="M928.8 2059.8H937.8" stroke="#111" stroke-width="1.8"/><text transform="translate(921.2,2071.9) scale(0.97,1)" font-size="33" text-anchor="end">1500</text><path d="M928.8 1928.8H937.8" stroke="#111" stroke-width="1.8"/><text transform="translate(921.2,1940.9) scale(0.97,1)" font-size="33" text-anchor="end">2000</text><path d="M991.6 2452.9V2461.9" stroke="#111" stroke-width="1.8"/><path d="M1045.0 2452.9V2461.9" stroke="#111" stroke-width="1.8"/><path d="M1098.5 2452.9V2461.9" stroke="#111" stroke-width="1.8"/><path d="M1170.4 2452.9V2461.9" stroke="#111" stroke-width="1.8"/><path d="M1224.1 2452.9V2461.9" stroke="#111" stroke-width="1.8"/><path d="M1277.5 2452.9V2461.9" stroke="#111" stroke-width="1.8"/><text transform="translate(839.3,2186.8) rotate(-90) scale(0.975,1)" font-size="32.5" text-anchor="middle">Starch (µmol gDW<tspan font-size="23" dy="-9.5">-1</tspan><tspan dy="9.5">)</tspan></text><path d="M991.6 2102V2125M991.6 2219.1V2238.5M982.0 2102H1001.2M982.0 2238.5H1001.2" stroke="#111" stroke-width="2.1" fill="none"/><rect x="974.7" y="2125" width="33.8" height="94.1" fill="#ababab" stroke="#111" stroke-width="1.8"/><path d="M974.7 2153.8H1008.5" stroke="#111" stroke-width="2.1"/><path d="M987.2 2169.2H996.0M991.6 2164.9V2173.5" stroke="#111" stroke-width="1.9" fill="none"/><circle cx="991.6" cy="2102" r="3.3" fill="#5a5a5a" stroke="#111" stroke-width="1.9"/><circle cx="991.6" cy="2120.9" r="3.3" fill="#5a5a5a" stroke="#111" stroke-width="1.9"/><circle cx="991.6" cy="2126.6" r="3.3" fill="#5a5a5a" stroke="#111" stroke-width="1.9"/><circle cx="991.6" cy="2133.5" r="3.3" fill="#5a5a5a" stroke="#111" stroke-width="1.9"/><circle cx="991.6" cy="2153.8" r="3.3" fill="#5a5a5a" stroke="#111" stroke-width="1.9"/><circle cx="991.6" cy="2205.3" r="3.3" fill="#5a5a5a" stroke="#111" stroke-width="1.9"/><circle cx="991.6" cy="2206.9" r="3.3" fill="#5a5a5a" stroke="#111" stroke-width="1.9"/><circle cx="991.6" cy="2232.2" r="3.3" fill="#5a5a5a" stroke="#111" stroke-width="1.9"/><circle cx="991.6" cy="2238.5" r="3.3" fill="#5a5a5a" stroke="#111" stroke-width="1.9"/><text x="991.6" y="2079.9" font-size="17.6" font-weight="bold" fill="#8b1414" text-anchor="middle">a</text><path d="M1045.0 2128.5V2155M1045.0 2210.8V2225.3M1035.4 2128.5H1054.6M1035.4 2225.3H1054.6" stroke="#111" stroke-width="2.1" fill="none"/><rect x="1028.1" y="2155" width="33.8" height="55.8" fill="#ababab" stroke="#111" stroke-width="1.8"/><path d="M1028.1 2180.8H1061.9" stroke="#111" stroke-width="2.1"/><circle cx="1045.0" cy="2128.5" r="3.3" fill="#5a5a5a" stroke="#111" stroke-width="1.9"/><circle cx="1045.0" cy="2153.8" r="3.3" fill="#5a5a5a" stroke="#111" stroke-width="1.9"/><circle cx="1045.0" cy="2155.4" r="3.3" fill="#5a5a5a" stroke="#111" stroke-width="1.9"/><circle cx="1045.0" cy="2180.3" r="3.3" fill="#5a5a5a" stroke="#111" stroke-width="1.9"/><circle cx="1045.0" cy="2186.1" r="3.3" fill="#5a5a5a" stroke="#111" stroke-width="1.9"/><circle cx="1045.0" cy="2203" r="3.3" fill="#5a5a5a" stroke="#111" stroke-width="1.9"/><circle cx="1045.0" cy="2220.3" r="3.3" fill="#5a5a5a" stroke="#111" stroke-width="1.9"/><circle cx="1045.0" cy="2225.3" r="3.3" fill="#5a5a5a" stroke="#111" stroke-width="1.9"/><text x="1045.0" y="2105.9" font-size="17.6" font-weight="bold" fill="#8b1414" text-anchor="middle">a</text><path d="M1098.5 2121.5V2138.1M1098.5 2190.8V2219.6M1088.9 2121.5H1108.1M1088.9 2219.6H1108.1" stroke="#111" stroke-width="2.1" fill="none"/><rect x="1081.6" y="2138.1" width="33.8" height="52.7" fill="#ababab" stroke="#111" stroke-width="1.8"/><path d="M1081.6 2145.7H1115.4" stroke="#111" stroke-width="2.1"/><path d="M1094.1 2162.3H1102.9M1098.5 2158.0V2166.6" stroke="#111" stroke-width="1.9" fill="none"/><circle cx="1098.5" cy="2121.5" r="3.3" fill="#5a5a5a" stroke="#111" stroke-width="1.9"/><circle cx="1098.5" cy="2133.5" r="3.3" fill="#5a5a5a" stroke="#111" stroke-width="1.9"/><circle cx="1098.5" cy="2141.6" r="3.3" fill="#5a5a5a" stroke="#111" stroke-width="1.9"/><circle cx="1098.5" cy="2145.7" r="3.3" fill="#5a5a5a" stroke="#111" stroke-width="1.9"/><circle cx="1098.5" cy="2172.2" r="3.3" fill="#5a5a5a" stroke="#111" stroke-width="1.9"/><circle cx="1098.5" cy="2186.1" r="3.3" fill="#5a5a5a" stroke="#111" stroke-width="1.9"/><circle cx="1098.5" cy="2197.7" r="3.3" fill="#5a5a5a" stroke="#111" stroke-width="1.9"/><circle cx="1098.5" cy="2219.6" r="3.3" fill="#5a5a5a" stroke="#111" stroke-width="1.9"/><text x="1098.5" y="2098.3" font-size="17.6" font-weight="bold" fill="#8b1414" text-anchor="middle">a</text><path d="M1170.4 2074.3V2099.7M1170.4 2149.2V2170.4M1160.8 2074.3H1180.0M1160.8 2170.4H1180.0" stroke="#111" stroke-width="2.1" fill="none"/><rect x="1153.5" y="2099.7" width="33.8" height="49.5" fill="#c4827c" stroke="#111" stroke-width="1.8"/><path d="M1153.5 2128.2H1187.3" stroke="#111" stroke-width="2.1"/><path d="M1170.4 2071.2L1173.8 2077.7L1167.0 2077.7Z" fill="#8a1010" stroke="#1a0303" stroke-width="1.8" stroke-linejoin="round"/><path d="M1170.4 2119.6L1173.8 2126.1L1167.0 2126.1Z" fill="#8a1010" stroke="#1a0303" stroke-width="1.8" stroke-linejoin="round"/><path d="M1170.4 2127.6L1173.8 2134.1L1167.0 2134.1Z" fill="#8a1010" stroke="#1a0303" stroke-width="1.8" stroke-linejoin="round"/><path d="M1170.4 2129.4L1173.8 2135.9L1167.0 2135.9Z" fill="#8a1010" stroke="#1a0303" stroke-width="1.8" stroke-linejoin="round"/><path d="M1170.4 2167.3L1173.8 2173.8L1167.0 2173.8Z" fill="#8a1010" stroke="#1a0303" stroke-width="1.8" stroke-linejoin="round"/><text x="1170.4" y="2051.1" font-size="17.6" font-weight="bold" fill="#8b1414" text-anchor="middle">a</text><path d="M1224.1 2119.2V2127.1M1224.1 2176.2V2188.2M1214.5 2119.2H1233.7M1214.5 2188.2H1233.7" stroke="#111" stroke-width="2.1" fill="none"/><rect x="1207.2" y="2127.1" width="33.8" height="49.1" fill="#c4827c" stroke="#111" stroke-width="1.8"/><path d="M1207.2 2139.3H1241.0" stroke="#111" stroke-width="2.1"/><path d="M1219.7 2149.7H1228.5M1224.1 2145.4V2154.0" stroke="#111" stroke-width="1.9" fill="none"/><path d="M1224.1 2116.1L1227.5 2122.6L1220.7 2122.6Z" fill="#8a1010" stroke="#1a0303" stroke-width="1.8" stroke-linejoin="round"/><path d="M1224.1 2129.9L1227.5 2136.4L1220.7 2136.4Z" fill="#8a1010" stroke="#1a0303" stroke-width="1.8" stroke-linejoin="round"/><path d="M1224.1 2136.8L1227.5 2143.3L1220.7 2143.3Z" fill="#8a1010" stroke="#1a0303" stroke-width="1.8" stroke-linejoin="round"/><path d="M1224.1 2163.3L1227.5 2169.8L1220.7 2169.8Z" fill="#8a1010" stroke="#1a0303" stroke-width="1.8" stroke-linejoin="round"/><path d="M1224.1 2184.8L1227.5 2191.3L1220.7 2191.3Z" fill="#8a1010" stroke="#1a0303" stroke-width="1.8" stroke-linejoin="round"/><text x="1224.1" y="2097.2" font-size="17.6" font-weight="bold" fill="#8b1414" text-anchor="middle">a</text><path d="M1277.5 2068.3V2085.6M1277.5 2180.3V2212.2M1267.9 2068.3H1287.1M1267.9 2212.2H1287.1" stroke="#111" stroke-width="2.1" fill="none"/><rect x="1260.6" y="2085.6" width="33.8" height="94.7" fill="#c4827c" stroke="#111" stroke-width="1.8"/><path d="M1260.6 2138.6H1294.4" stroke="#111" stroke-width="2.1"/><path d="M1273.1 2133.5H1281.9M1277.5 2129.2V2137.8" stroke="#111" stroke-width="1.9" fill="none"/><path d="M1277.5 2064.9L1280.9 2071.4L1274.1 2071.4Z" fill="#8a1010" stroke="#1a0303" stroke-width="1.8" stroke-linejoin="round"/><path d="M1277.5 2097.7L1280.9 2104.2L1274.1 2104.2Z" fill="#8a1010" stroke="#1a0303" stroke-width="1.8" stroke-linejoin="round"/><path d="M1277.5 2135.7L1280.9 2142.2L1274.1 2142.2Z" fill="#8a1010" stroke="#1a0303" stroke-width="1.8" stroke-linejoin="round"/><path d="M1277.5 2148.4L1280.9 2154.9L1274.1 2154.9Z" fill="#8a1010" stroke="#1a0303" stroke-width="1.8" stroke-linejoin="round"/><path d="M1277.5 2208.9L1280.9 2215.4L1274.1 2215.4Z" fill="#8a1010" stroke="#1a0303" stroke-width="1.8" stroke-linejoin="round"/><text x="1277.5" y="2044.9" font-size="17.6" font-weight="bold" fill="#8b1414" text-anchor="middle">a</text><line x1="1889.2" y1="1929.6" x2="1889.2" y2="2457.2" stroke="#333" stroke-width="2" stroke-dasharray="5.4,2.7"/><rect x="1692.6" y="1929.6" width="393.3" height="524.6" fill="none" stroke="#111" stroke-width="1.8"/><path d="M1683.6 2454.2H1692.6" stroke="#111" stroke-width="1.8"/><text transform="translate(1676.0,2466.3) scale(0.97,1)" font-size="33" text-anchor="end">0</text><path d="M1683.6 2323.0H1692.6" stroke="#111" stroke-width="1.8"/><text transform="translate(1676.0,2335.1) scale(0.97,1)" font-size="33" text-anchor="end">1000</text><path d="M1683.6 2191.9H1692.6" stroke="#111" stroke-width="1.8"/><text transform="translate(1676.0,2204.0) scale(0.97,1)" font-size="33" text-anchor="end">2000</text><path d="M1683.6 2060.8H1692.6" stroke="#111" stroke-width="1.8"/><text transform="translate(1676.0,2072.8) scale(0.97,1)" font-size="33" text-anchor="end">3000</text><path d="M1683.6 1929.6H1692.6" stroke="#111" stroke-width="1.8"/><text transform="translate(1676.0,1941.7) scale(0.97,1)" font-size="33" text-anchor="end">4000</text><path d="M1746.2 2454.2V2463.2" stroke="#111" stroke-width="1.8"/><path d="M1799.9 2454.2V2463.2" stroke="#111" stroke-width="1.8"/><path d="M1853.1 2454.2V2463.2" stroke="#111" stroke-width="1.8"/><path d="M1924.6 2454.2V2463.2" stroke="#111" stroke-width="1.8"/><path d="M1978.0 2454.2V2463.2" stroke="#111" stroke-width="1.8"/><path d="M2032.0 2454.2V2463.2" stroke="#111" stroke-width="1.8"/><text transform="translate(1591.0,2186.8) rotate(-90) scale(0.975,1)" font-size="32.5" text-anchor="middle">Starch (µmol gDW<tspan font-size="23" dy="-9.5">-1</tspan><tspan dy="9.5">)</tspan></text><path d="M1746.2 2078.2V2090.4M1746.2 2142.7V2221.9M1736.6 2078.2H1755.8M1736.6 2221.9H1755.8" stroke="#111" stroke-width="2.1" fill="none"/><rect x="1729.3" y="2090.4" width="33.8" height="52.3" fill="#ababab" stroke="#111" stroke-width="1.8"/><path d="M1729.3 2107.5H1763.1" stroke="#111" stroke-width="2.1"/><path d="M1741.8 2122H1750.6M1746.2 2117.7V2126.3" stroke="#111" stroke-width="1.9" fill="none"/><circle cx="1746.2" cy="2078.2" r="3.3" fill="#5a5a5a" stroke="#111" stroke-width="1.9"/><circle cx="1746.2" cy="2087.4" r="3.3" fill="#5a5a5a" stroke="#111" stroke-width="1.9"/><circle cx="1746.2" cy="2093.2" r="3.3" fill="#5a5a5a" stroke="#111" stroke-width="1.9"/><circle cx="1746.2" cy="2102.9" r="3.3" fill="#5a5a5a" stroke="#111" stroke-width="1.9"/><circle cx="1746.2" cy="2110.5" r="3.3" fill="#5a5a5a" stroke="#111" stroke-width="1.9"/><circle cx="1746.2" cy="2127.8" r="3.3" fill="#5a5a5a" stroke="#111" stroke-width="1.9"/><circle cx="1746.2" cy="2149" r="3.3" fill="#5a5a5a" stroke="#111" stroke-width="1.9"/><circle cx="1746.2" cy="2221.9" r="3.3" fill="#5a5a5a" stroke="#111" stroke-width="1.9"/><text x="1746.2" y="2056.4" font-size="17.6" font-weight="bold" fill="#8b1414" text-anchor="middle">a</text><path d="M1799.9 2127.8V2137.4M1799.9 2183.1V2258.3M1790.3 2127.8H1809.5M1790.3 2258.3H1809.5" stroke="#111" stroke-width="2.1" fill="none"/><rect x="1783.0" y="2137.4" width="33.8" height="45.7" fill="#ababab" stroke="#111" stroke-width="1.8"/><path d="M1783.0 2144.6H1816.8" stroke="#111" stroke-width="2.1"/><path d="M1795.5 2163.5H1804.3M1799.9 2159.2V2167.8" stroke="#111" stroke-width="1.9" fill="none"/><circle cx="1799.9" cy="2127.1" r="3.3" fill="#5a5a5a" stroke="#111" stroke-width="1.9"/><circle cx="1799.9" cy="2135.1" r="3.3" fill="#5a5a5a" stroke="#111" stroke-width="1.9"/><circle cx="1799.9" cy="2141.6" r="3.3" fill="#5a5a5a" stroke="#111" stroke-width="1.9"/><circle cx="1799.9" cy="2147.4" r="3.3" fill="#5a5a5a" stroke="#111" stroke-width="1.9"/><circle cx="1799.9" cy="2166.5" r="3.3" fill="#5a5a5a" stroke="#111" stroke-width="1.9"/><circle cx="1799.9" cy="2190" r="3.3" fill="#5a5a5a" stroke="#111" stroke-width="1.9"/><circle cx="1799.9" cy="2258.3" r="3.3" fill="#5a5a5a" stroke="#111" stroke-width="1.9"/><text x="1799.9" y="2104.8" font-size="17.6" font-weight="bold" fill="#8b1414" text-anchor="middle">a</text><path d="M1853.1 2069V2103.1M1853.1 2178.9V2228.8M1843.5 2069H1862.7M1843.5 2228.8H1862.7" stroke="#111" stroke-width="2.1" fill="none"/><rect x="1836.2" y="2103.1" width="33.8" height="75.8" fill="#ababab" stroke="#111" stroke-width="1.8"/><path d="M1836.2 2165.8H1870.0" stroke="#111" stroke-width="2.1"/><path d="M1848.7 2149.7H1857.5M1853.1 2145.4V2154.0" stroke="#111" stroke-width="1.9" fill="none"/><circle cx="1853.1" cy="2069" r="3.3" fill="#5a5a5a" stroke="#111" stroke-width="1.9"/><circle cx="1853.1" cy="2098.3" r="3.3" fill="#5a5a5a" stroke="#111" stroke-width="1.9"/><circle cx="1853.1" cy="2115.8" r="3.3" fill="#5a5a5a" stroke="#111" stroke-width="1.9"/><circle cx="1853.1" cy="2161.9" r="3.3" fill="#5a5a5a" stroke="#111" stroke-width="1.9"/><circle cx="1853.1" cy="2169.2" r="3.3" fill="#5a5a5a" stroke="#111" stroke-width="1.9"/><circle cx="1853.1" cy="2174.5" r="3.3" fill="#5a5a5a" stroke="#111" stroke-width="1.9"/><circle cx="1853.1" cy="2181.9" r="3.3" fill="#5a5a5a" stroke="#111" stroke-width="1.9"/><circle cx="1853.1" cy="2228.8" r="3.3" fill="#5a5a5a" stroke="#111" stroke-width="1.9"/><text x="1853.1" y="2046.5" font-size="17.6" font-weight="bold" fill="#8b1414" text-anchor="middle">a</text><path d="M1924.6 2055.6V2062.6M1924.6 2100.1V2110M1915.0 2055.6H1934.2M1915.0 2110H1934.2" stroke="#111" stroke-width="2.1" fill="none"/><rect x="1907.7" y="2062.6" width="33.8" height="37.5" fill="#c4827c" stroke="#111" stroke-width="1.8"/><path d="M1907.7 2089.7H1941.5" stroke="#111" stroke-width="2.1"/><path d="M1920.2 2082.4H1929.0M1924.6 2078.1V2086.7" stroke="#111" stroke-width="1.9" fill="none"/><path d="M1924.6 2052.3L1928.0 2058.8L1921.2 2058.8Z" fill="#8a1010" stroke="#1a0303" stroke-width="1.8" stroke-linejoin="round"/><path d="M1924.6 2064.3L1928.0 2070.8L1921.2 2070.8Z" fill="#8a1010" stroke="#1a0303" stroke-width="1.8" stroke-linejoin="round"/><path d="M1924.6 2088.4L1928.0 2094.9L1921.2 2094.9Z" fill="#8a1010" stroke="#1a0303" stroke-width="1.8" stroke-linejoin="round"/><path d="M1924.6 2106.9L1928.0 2113.4L1921.2 2113.4Z" fill="#8a1010" stroke="#1a0303" stroke-width="1.8" stroke-linejoin="round"/><text x="1924.6" y="2032.6" font-size="17.6" font-weight="bold" fill="#8b1414" text-anchor="middle">a</text><path d="M1978.0 2024.5V2068.5M1978.0 2162.3V2180.1M1968.4 2024.5H1987.6M1968.4 2180.1H1987.6" stroke="#111" stroke-width="2.1" fill="none"/><rect x="1961.1" y="2068.5" width="33.8" height="93.8" fill="#c4827c" stroke="#111" stroke-width="1.8"/><path d="M1961.1 2122.5H1994.9" stroke="#111" stroke-width="2.1"/><path d="M1973.6 2116.2H1982.4M1978.0 2111.9V2120.5" stroke="#111" stroke-width="1.9" fill="none"/><path d="M1978.0 2021.2L1981.4 2027.7L1974.6 2027.7Z" fill="#8a1010" stroke="#1a0303" stroke-width="1.8" stroke-linejoin="round"/><path d="M1978.0 2107.6L1981.4 2114.1L1974.6 2114.1Z" fill="#8a1010" stroke="#1a0303" stroke-width="1.8" stroke-linejoin="round"/><path d="M1978.0 2120.0L1981.4 2126.5L1974.6 2126.5Z" fill="#8a1010" stroke="#1a0303" stroke-width="1.8" stroke-linejoin="round"/><path d="M1978.0 2144.4L1981.4 2150.9L1974.6 2150.9Z" fill="#8a1010" stroke="#1a0303" stroke-width="1.8" stroke-linejoin="round"/><path d="M1978.0 2177.2L1981.4 2183.7L1974.6 2183.7Z" fill="#8a1010" stroke="#1a0303" stroke-width="1.8" stroke-linejoin="round"/><text x="1978.0" y="2001.5" font-size="17.6" font-weight="bold" fill="#8b1414" text-anchor="middle">a</text><path d="M2032.0 2016V2051.7M2032.0 2141.6V2176.2M2022.4 2016H2041.6M2022.4 2176.2H2041.6" stroke="#111" stroke-width="2.1" fill="none"/><rect x="2015.1" y="2051.7" width="33.8" height="89.9" fill="#c4827c" stroke="#111" stroke-width="1.8"/><path d="M2015.1 2098.3H2048.9" stroke="#111" stroke-width="2.1"/><path d="M2027.6 2097.8H2036.4M2032.0 2093.5V2102.1" stroke="#111" stroke-width="1.9" fill="none"/><path d="M2032.0 2012.9L2035.4 2019.4L2028.6 2019.4Z" fill="#8a1010" stroke="#1a0303" stroke-width="1.8" stroke-linejoin="round"/><path d="M2032.0 2081.5L2035.4 2088.0L2028.6 2088.0Z" fill="#8a1010" stroke="#1a0303" stroke-width="1.8" stroke-linejoin="round"/><path d="M2032.0 2096.1L2035.4 2102.6L2028.6 2102.6Z" fill="#8a1010" stroke="#1a0303" stroke-width="1.8" stroke-linejoin="round"/><path d="M2032.0 2106.9L2035.4 2113.4L2028.6 2113.4Z" fill="#8a1010" stroke="#1a0303" stroke-width="1.8" stroke-linejoin="round"/><path d="M2032.0 2173.2L2035.4 2179.7L2028.6 2179.7Z" fill="#8a1010" stroke="#1a0303" stroke-width="1.8" stroke-linejoin="round"/><text x="2032.0" y="1993.5" font-size="17.6" font-weight="bold" fill="#8b1414" text-anchor="middle">a</text><text transform="translate(240.1,2468.2) rotate(-90) scale(0.97,1)" font-size="33" text-anchor="end">4218</text><text transform="translate(293.8,2468.2) rotate(-90) scale(0.97,1)" font-size="33" text-anchor="end">4234</text><text transform="translate(347.3,2468.2) rotate(-90) scale(0.97,1)" font-size="33" text-anchor="end">4243</text><text transform="translate(418.7,2468.2) rotate(-90) scale(0.97,1)" font-size="33" text-anchor="end">4261</text><text transform="translate(472.4,2468.2) rotate(-90) scale(0.97,1)" font-size="33" text-anchor="end">4262</text><text transform="translate(525.9,2468.2) rotate(-90) scale(0.97,1)" font-size="33" text-anchor="end">4264</text><rect x="209.6" y="2576.8" width="148.8" height="5.1" fill="#000"/><rect x="388.0" y="2576.8" width="149.3" height="5.1" fill="#000"/><text x="283.2" y="2631.3" font-size="32.5" font-weight="bold" text-anchor="middle">EV</text><text x="404.7" y="2630.4" font-size="32.5" font-weight="bold" font-style="italic">AKT2<tspan font-style="normal" font-size="21.5" dy="4.3">var</tspan></text><text transform="translate(1002.6,2468.2) rotate(-90) scale(0.97,1)" font-size="33" text-anchor="end">4218</text><text transform="translate(1056.0,2468.2) rotate(-90) scale(0.97,1)" font-size="33" text-anchor="end">4234</text><text transform="translate(1109.5,2468.2) rotate(-90) scale(0.97,1)" font-size="33" text-anchor="end">4243</text><text transform="translate(1181.4,2468.2) rotate(-90) scale(0.97,1)" font-size="33" text-anchor="end">4261</text><text transform="translate(1235.1,2468.2) rotate(-90) scale(0.97,1)" font-size="33" text-anchor="end">4262</text><text transform="translate(1288.5,2468.2) rotate(-90) scale(0.97,1)" font-size="33" text-anchor="end">4264</text><rect x="973.9" y="2576.8" width="148.2" height="5.1" fill="#000"/><rect x="1152.3" y="2576.8" width="148.5" height="5.1" fill="#000"/><text x="1049.0" y="2631.3" font-size="32.5" font-weight="bold" text-anchor="middle">EV</text><text x="1169.1" y="2630.4" font-size="32.5" font-weight="bold" font-style="italic">AKT2<tspan font-style="normal" font-size="21.5" dy="4.3">var</tspan></text><text transform="translate(1757.2,2468.2) rotate(-90) scale(0.97,1)" font-size="33" text-anchor="end">4218</text><text transform="translate(1810.9,2468.2) rotate(-90) scale(0.97,1)" font-size="33" text-anchor="end">4234</text><text transform="translate(1864.1,2468.2) rotate(-90) scale(0.97,1)" font-size="33" text-anchor="end">4243</text><text transform="translate(1935.6,2468.2) rotate(-90) scale(0.97,1)" font-size="33" text-anchor="end">4261</text><text transform="translate(1989.0,2468.2) rotate(-90) scale(0.97,1)" font-size="33" text-anchor="end">4262</text><text transform="translate(2043.0,2468.2) rotate(-90) scale(0.97,1)" font-size="33" text-anchor="end">4264</text><rect x="1727.7" y="2576.8" width="148.8" height="5.1" fill="#000"/><rect x="1905.2" y="2576.8" width="148.6" height="5.1" fill="#000"/><text x="1801.0" y="2631.3" font-size="32.5" font-weight="bold" text-anchor="middle">EV</text><text x="1922.3" y="2630.4" font-size="32.5" font-weight="bold" font-style="italic">AKT2<tspan font-style="normal" font-size="21.5" dy="4.3">var</tspan></text><rect x="766" y="2549" width="1.6" height="10" fill="#c8f4f0"/></svg>
</body></html>
